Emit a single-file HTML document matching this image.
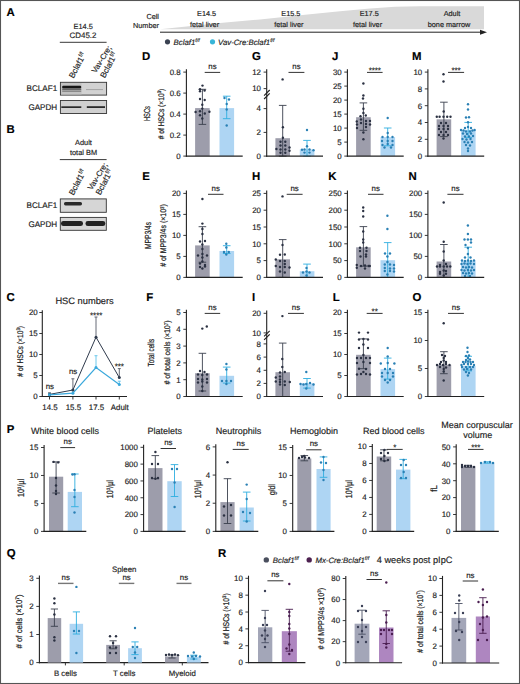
<!DOCTYPE html>
<html><head><meta charset="utf-8"><title>Figure</title>
<style>
html,body{margin:0;padding:0;background:#fff;}
body{width:520px;height:684px;overflow:hidden;font-family:"Liberation Sans", sans-serif;}
svg{display:block;}
</style></head><body>
<svg width="520" height="684" viewBox="0 0 520 684" font-family="'Liberation Sans', sans-serif" text-rendering="geometricPrecision" fill="#222">
<rect x="0" y="0" width="520" height="684" fill="#fff"/>
<defs><filter id="bl" x="-20%" y="-50%" width="140%" height="200%"><feGaussianBlur stdDeviation="0.6"/></filter><filter id="bl2" x="-20%" y="-50%" width="140%" height="200%"><feGaussianBlur stdDeviation="0.9"/></filter></defs>
<text x="6.5" y="16.1" font-size="11.4" font-weight="bold" fill="#000" stroke="#000" stroke-width="0.16">A</text>
<text x="83.2" y="28.9" font-size="7.4" text-anchor="middle" stroke="#222" stroke-width="0.16">E14.5</text>
<text x="83" y="37.9" font-size="7.9" text-anchor="middle" stroke="#222" stroke-width="0.16">CD45.2</text>
<line x1="59.8" y1="42.3" x2="106.6" y2="42.3" stroke="#222" stroke-width="0.9"/>
<text x="73.5" y="78.8" font-size="8.2" transform="rotate(-62 73.5 78.8)" stroke="#222" stroke-width="0.16">Bclaf1<tspan dy="-3.1" font-size="5.6">f/f</tspan></text>
<text x="95.8" y="73.6" font-size="7.8" transform="rotate(-58 95.8 73.6)" stroke="#222" stroke-width="0.16">Vav-Cre;</text>
<text x="104.8" y="78.6" font-size="8.2" transform="rotate(-62 104.8 78.6)" stroke="#222" stroke-width="0.16">Bclaf1<tspan dy="-3.1" font-size="5.6">f/f</tspan></text>
<text x="57.2" y="91.1" font-size="8.1" text-anchor="end" stroke="#222" stroke-width="0.16">BCLAF1</text>
<text x="57.2" y="110.4" font-size="8.1" text-anchor="end" stroke="#222" stroke-width="0.16">GAPDH</text>
<rect x="60.4" y="82.3" width="46.2" height="12.8" fill="#d2d2d2" stroke="#333" stroke-width="0.9"/>
<rect x="61" y="83" width="20.5" height="11.4" fill="#c2c2c2" filter="url(#bl)"/>
<rect x="62.2" y="85.7" width="19" height="2.8" rx="1" fill="#151515" filter="url(#bl)"/>
<rect x="62.2" y="88.6" width="19" height="1.4" fill="#666" filter="url(#bl)"/>
<rect x="62.2" y="90.4" width="19" height="1.6" fill="#8a8a8a" filter="url(#bl)"/>
<rect x="86" y="89.0" width="17" height="1.1" fill="#a8a8a8" filter="url(#bl)"/>
<rect x="60.4" y="100.5" width="46.2" height="13" fill="#d0d0d0" stroke="#333" stroke-width="0.9"/>
<rect x="61.3" y="106.3" width="20" height="1.7" fill="#2a2a2a" filter="url(#bl)"/>
<rect x="86.8" y="106.2" width="18.2" height="1.8" fill="#2a2a2a" filter="url(#bl)"/>
<text x="6.5" y="133.1" font-size="11.4" font-weight="bold" fill="#000" stroke="#000" stroke-width="0.16">B</text>
<text x="83.5" y="144.6" font-size="7.4" text-anchor="middle" stroke="#222" stroke-width="0.16">Adult</text>
<text x="83.5" y="155" font-size="7.4" text-anchor="middle" stroke="#222" stroke-width="0.16">total BM</text>
<line x1="59.8" y1="159.6" x2="106.6" y2="159.6" stroke="#222" stroke-width="0.9"/>
<text x="73.5" y="195.8" font-size="8.2" transform="rotate(-62 73.5 195.8)" stroke="#222" stroke-width="0.16">Bclaf1<tspan dy="-3.1" font-size="5.6">f/f</tspan></text>
<text x="91.8" y="190.6" font-size="7.8" transform="rotate(-58 91.8 190.6)" stroke="#222" stroke-width="0.16">Vav-Cre;</text>
<text x="100.3" y="195.6" font-size="8.2" transform="rotate(-62 100.3 195.6)" stroke="#222" stroke-width="0.16">Bclaf1<tspan dy="-3.1" font-size="5.6">f/f</tspan></text>
<text x="57.2" y="208.4" font-size="8.1" text-anchor="end" stroke="#222" stroke-width="0.16">BCLAF1</text>
<text x="57.2" y="226.6" font-size="8.1" text-anchor="end" stroke="#222" stroke-width="0.16">GAPDH</text>
<rect x="60.3" y="198.9" width="46" height="13.4" fill="#d6d6d6" stroke="#333" stroke-width="0.9"/>
<rect x="64" y="202" width="18" height="3.4" rx="1.6" fill="#2a2a2a" filter="url(#bl)"/>
<rect x="60.3" y="217.4" width="46" height="12.9" fill="#d6d6d6" stroke="#333" stroke-width="0.9"/>
<rect x="61" y="220.9" width="22" height="5.2" rx="2.4" fill="#222" filter="url(#bl)"/>
<rect x="85.5" y="220.9" width="19.8" height="5.2" rx="2.4" fill="#222" filter="url(#bl)"/>
<path d="M160,29.3 L220,23.1 L260,19.4 L300,15.2 L340,11.2 L370,8.4 L395,6.7 L420,6.2 L484,6.2 L484,29.3 Z" fill="#d9d9d9" stroke="none" stroke-width="1"/>
<line x1="160" y1="32.2" x2="481" y2="32.2" stroke="#222" stroke-width="1"/>
<path d="M480,29.7 L487,32.2 L480,34.7 Z" fill="#222" stroke="none" stroke-width="1"/>
<text x="159" y="18.8" font-size="7.3" text-anchor="end" stroke="#222" stroke-width="0.16">Cell</text>
<text x="159" y="27.9" font-size="7.3" text-anchor="end" stroke="#222" stroke-width="0.16">Number</text>
<text x="206.6" y="16.2" font-size="7.3" text-anchor="middle" stroke="#222" stroke-width="0.16">E14.5</text>
<text x="204.5" y="27.3" font-size="7.3" text-anchor="middle" stroke="#222" stroke-width="0.16">fetal liver</text>
<text x="290.9" y="16.2" font-size="7.3" text-anchor="middle" stroke="#222" stroke-width="0.16">E15.5</text>
<text x="288.8" y="27.3" font-size="7.3" text-anchor="middle" stroke="#222" stroke-width="0.16">fetal liver</text>
<text x="369.2" y="16.2" font-size="7.3" text-anchor="middle" stroke="#222" stroke-width="0.16">E17.5</text>
<text x="367.5" y="27.3" font-size="7.3" text-anchor="middle" stroke="#222" stroke-width="0.16">fetal liver</text>
<text x="452" y="16.2" font-size="7.3" text-anchor="middle" stroke="#222" stroke-width="0.16">Adult</text>
<text x="449" y="27.3" font-size="7.3" text-anchor="middle" stroke="#222" stroke-width="0.16">bone marrow</text>
<circle cx="167.5" cy="41.8" r="2.6" fill="#3a4252"/>
<text x="173.6" y="44.6" font-size="7.8" font-style="italic" stroke="#222" stroke-width="0.16">Bclaf1<tspan dy="-2.9" font-size="5.2">f/f</tspan></text>
<circle cx="212.5" cy="41.8" r="2.6" fill="#38b5d8"/>
<text x="218" y="44.6" font-size="7.8" font-style="italic" stroke="#222" stroke-width="0.16">Vav-Cre:Bclaf1<tspan dy="-2.9" font-size="5.2">f/f</tspan></text>
<text x="6.5" y="301.1" font-size="11.4" font-weight="bold" fill="#000" stroke="#000" stroke-width="0.16">C</text>
<text x="55.4" y="303.8" font-size="9.3" stroke="#222" stroke-width="0.16">HSC numbers</text>
<text x="0" y="0" font-size="8.2" text-anchor="middle" transform="translate(22.8 351.3) rotate(-90) scale(0.82 1)" stroke="#222" stroke-width="0.22"># of HSCs (×10<tspan dy="-2.8" font-size="5.2">3</tspan><tspan dy="2.8">)</tspan></text>
<line x1="42.3" y1="310.2" x2="42.3" y2="397" stroke="#222" stroke-width="1.1"/>
<line x1="41.8" y1="396.5" x2="127" y2="396.5" stroke="#222" stroke-width="1.1"/>
<line x1="39.3" y1="396.5" x2="42.3" y2="396.5" stroke="#222" stroke-width="0.9"/>
<text x="37.7" y="399.3" font-size="7.9" text-anchor="end" stroke="#222" stroke-width="0.16">0</text>
<line x1="39.3" y1="375.5" x2="42.3" y2="375.5" stroke="#222" stroke-width="0.9"/>
<text x="37.7" y="378.3" font-size="7.9" text-anchor="end" stroke="#222" stroke-width="0.16">5</text>
<line x1="39.3" y1="354.5" x2="42.3" y2="354.5" stroke="#222" stroke-width="0.9"/>
<text x="37.7" y="357.3" font-size="7.9" text-anchor="end" stroke="#222" stroke-width="0.16">10</text>
<line x1="39.3" y1="333.5" x2="42.3" y2="333.5" stroke="#222" stroke-width="0.9"/>
<text x="37.7" y="336.3" font-size="7.9" text-anchor="end" stroke="#222" stroke-width="0.16">15</text>
<line x1="39.3" y1="312.5" x2="42.3" y2="312.5" stroke="#222" stroke-width="0.9"/>
<text x="37.7" y="315.3" font-size="7.9" text-anchor="end" stroke="#222" stroke-width="0.16">20</text>
<line x1="49.5" y1="396.5" x2="49.5" y2="399.5" stroke="#222" stroke-width="0.9"/>
<text x="50" y="409.9" font-size="7.9" text-anchor="middle" stroke="#222" stroke-width="0.16">14.5</text>
<line x1="72.9" y1="396.5" x2="72.9" y2="399.5" stroke="#222" stroke-width="0.9"/>
<text x="73.4" y="409.9" font-size="7.9" text-anchor="middle" stroke="#222" stroke-width="0.16">15.5</text>
<line x1="96" y1="396.5" x2="96" y2="399.5" stroke="#222" stroke-width="0.9"/>
<text x="96.5" y="409.9" font-size="7.9" text-anchor="middle" stroke="#222" stroke-width="0.16">17.5</text>
<line x1="119.3" y1="396.5" x2="119.3" y2="399.5" stroke="#222" stroke-width="0.9"/>
<text x="119.8" y="409.9" font-size="7.9" text-anchor="middle" stroke="#222" stroke-width="0.16">Adult</text>
<line x1="49.5" y1="394.4" x2="49.5" y2="392.8" stroke="#555a66" stroke-width="0.9"/>
<line x1="48" y1="392.8" x2="51" y2="392.8" stroke="#555a66" stroke-width="0.9"/>
<line x1="72.9" y1="390" x2="72.9" y2="378.8" stroke="#555a66" stroke-width="0.9"/>
<line x1="71.4" y1="378.8" x2="74.4" y2="378.8" stroke="#555a66" stroke-width="0.9"/>
<line x1="96" y1="337.2" x2="96" y2="317" stroke="#555a66" stroke-width="0.9"/>
<line x1="94.5" y1="317" x2="97.5" y2="317" stroke="#555a66" stroke-width="0.9"/>
<line x1="119.3" y1="377.6" x2="119.3" y2="368.6" stroke="#555a66" stroke-width="0.9"/>
<line x1="117.8" y1="368.6" x2="120.8" y2="368.6" stroke="#555a66" stroke-width="0.9"/>
<line x1="49.5" y1="394.8" x2="49.5" y2="393.6" stroke="#5fc3ea" stroke-width="0.9"/>
<line x1="48" y1="393.6" x2="51" y2="393.6" stroke="#5fc3ea" stroke-width="0.9"/>
<line x1="72.9" y1="393.2" x2="72.9" y2="390.2" stroke="#5fc3ea" stroke-width="0.9"/>
<line x1="71.4" y1="390.2" x2="74.4" y2="390.2" stroke="#5fc3ea" stroke-width="0.9"/>
<line x1="96" y1="367.6" x2="96" y2="355.7" stroke="#5fc3ea" stroke-width="0.9"/>
<line x1="94.5" y1="355.7" x2="97.5" y2="355.7" stroke="#5fc3ea" stroke-width="0.9"/>
<line x1="119.3" y1="384.4" x2="119.3" y2="381.2" stroke="#5fc3ea" stroke-width="0.9"/>
<line x1="117.8" y1="381.2" x2="120.8" y2="381.2" stroke="#5fc3ea" stroke-width="0.9"/>
<polyline points="49.5,394.4 72.9,390 96,337.2 119.3,377.6" fill="none" stroke="#2f3a4c" stroke-width="1.0"/>
<polyline points="49.5,394.8 72.9,393.2 96,367.6 119.3,384.4" fill="none" stroke="#3aa8dc" stroke-width="1.2"/>
<circle cx="49.5" cy="394.4" r="1.5" fill="#2f3a4c"/>
<circle cx="72.9" cy="390" r="1.5" fill="#2f3a4c"/>
<circle cx="96" cy="337.2" r="1.5" fill="#2f3a4c"/>
<circle cx="119.3" cy="377.6" r="1.5" fill="#2f3a4c"/>
<circle cx="49.5" cy="394.8" r="1.5" fill="#3aa8dc"/>
<circle cx="72.9" cy="393.2" r="1.5" fill="#3aa8dc"/>
<circle cx="96" cy="367.6" r="1.5" fill="#3aa8dc"/>
<circle cx="119.3" cy="384.4" r="1.5" fill="#3aa8dc"/>
<text x="49.8" y="388.8" font-size="7.9" text-anchor="middle" stroke="#222" stroke-width="0.16">ns</text>
<text x="73.1" y="374.4" font-size="7.9" text-anchor="middle" stroke="#222" stroke-width="0.16">ns</text>
<text x="96.2" y="318.4" font-size="7.9" text-anchor="middle" stroke="#222" stroke-width="0.16">****</text>
<text x="119.3" y="369.4" font-size="7.9" text-anchor="middle" stroke="#222" stroke-width="0.16">***</text>
<rect x="195.1" y="108.1" width="14.6" height="48" fill="#9d9dab"/>
<rect x="219.5" y="108.1" width="14.6" height="48" fill="#aed5f3"/>
<line x1="202.4" y1="89.3" x2="202.4" y2="124.4" stroke="#3a3f4d" stroke-width="0.9"/>
<line x1="198.6" y1="89.3" x2="206.2" y2="89.3" stroke="#3a3f4d" stroke-width="0.9"/>
<line x1="198.6" y1="124.4" x2="206.2" y2="124.4" stroke="#3a3f4d" stroke-width="0.9"/>
<line x1="226.7" y1="96.2" x2="226.7" y2="118.7" stroke="#2eaee0" stroke-width="0.9"/>
<line x1="222.9" y1="96.2" x2="230.5" y2="96.2" stroke="#2eaee0" stroke-width="0.9"/>
<line x1="222.9" y1="118.7" x2="230.5" y2="118.7" stroke="#2eaee0" stroke-width="0.9"/>
<circle cx="202.5" cy="85.6" r="1.2" fill="#2b3142"/>
<circle cx="200" cy="89.3" r="1.2" fill="#2b3142"/>
<circle cx="200" cy="91.2" r="1.2" fill="#2b3142"/>
<circle cx="204.6" cy="90.5" r="1.2" fill="#2b3142"/>
<circle cx="200" cy="99" r="1.2" fill="#2b3142"/>
<circle cx="204.7" cy="100" r="1.2" fill="#2b3142"/>
<circle cx="202.3" cy="104.8" r="1.2" fill="#2b3142"/>
<circle cx="202.3" cy="108.6" r="1.2" fill="#2b3142"/>
<circle cx="195.6" cy="112" r="1.2" fill="#2b3142"/>
<circle cx="200" cy="111.3" r="1.2" fill="#2b3142"/>
<circle cx="209.4" cy="111.8" r="1.2" fill="#2b3142"/>
<circle cx="200" cy="115.2" r="1.2" fill="#2b3142"/>
<circle cx="204.8" cy="113.5" r="1.2" fill="#2b3142"/>
<circle cx="202.3" cy="118.5" r="1.2" fill="#2b3142"/>
<circle cx="224.5" cy="98" r="1.2" fill="#2a80b4"/>
<circle cx="229" cy="99.5" r="1.2" fill="#2a80b4"/>
<circle cx="226.7" cy="104" r="1.2" fill="#2a80b4"/>
<circle cx="226.7" cy="109.5" r="1.2" fill="#2a80b4"/>
<circle cx="226.7" cy="125.5" r="1.2" fill="#2a80b4"/>
<line x1="186.4" y1="69.3" x2="186.4" y2="156.65" stroke="#222" stroke-width="1.1"/>
<line x1="185.85" y1="156.1" x2="242.7" y2="156.1" stroke="#222" stroke-width="1.1"/>
<line x1="183.3" y1="72.1" x2="186.4" y2="72.1" stroke="#222" stroke-width="0.9"/>
<text x="180.7" y="74.9" font-size="7.9" text-anchor="end" stroke="#222" stroke-width="0.16">0.8</text>
<line x1="183.3" y1="93.1" x2="186.4" y2="93.1" stroke="#222" stroke-width="0.9"/>
<text x="180.7" y="95.9" font-size="7.9" text-anchor="end" stroke="#222" stroke-width="0.16">0.6</text>
<line x1="183.3" y1="114.1" x2="186.4" y2="114.1" stroke="#222" stroke-width="0.9"/>
<text x="180.7" y="116.9" font-size="7.9" text-anchor="end" stroke="#222" stroke-width="0.16">0.4</text>
<line x1="183.3" y1="135.1" x2="186.4" y2="135.1" stroke="#222" stroke-width="0.9"/>
<text x="180.7" y="137.9" font-size="7.9" text-anchor="end" stroke="#222" stroke-width="0.16">0.2</text>
<line x1="183.3" y1="156.1" x2="186.4" y2="156.1" stroke="#222" stroke-width="0.9"/>
<text x="180.7" y="158.9" font-size="7.9" text-anchor="end" stroke="#222" stroke-width="0.16">0</text>
<line x1="204.7" y1="72.4" x2="220.2" y2="72.4" stroke="#333" stroke-width="1"/>
<text x="212.45" y="69" font-size="7.9" text-anchor="middle" stroke="#222" stroke-width="0.16">ns</text>
<rect x="275.4" y="138.2" width="14.6" height="17.9" fill="#9d9dab"/>
<rect x="299.8" y="149.5" width="14.6" height="6.6" fill="#aed5f3"/>
<line x1="282.7" y1="105.4" x2="282.7" y2="156.1" stroke="#3a3f4d" stroke-width="0.9"/>
<line x1="278.9" y1="105.4" x2="286.5" y2="105.4" stroke="#3a3f4d" stroke-width="0.9"/>
<line x1="278.9" y1="156.1" x2="286.5" y2="156.1" stroke="#3a3f4d" stroke-width="0.9"/>
<line x1="307" y1="140.4" x2="307" y2="156.1" stroke="#2eaee0" stroke-width="0.9"/>
<line x1="303.2" y1="140.4" x2="310.8" y2="140.4" stroke="#2eaee0" stroke-width="0.9"/>
<line x1="303.2" y1="156.1" x2="310.8" y2="156.1" stroke="#2eaee0" stroke-width="0.9"/>
<circle cx="282.6" cy="79.4" r="1.2" fill="#2b3142"/>
<circle cx="282.9" cy="127.2" r="1.2" fill="#2b3142"/>
<circle cx="282.9" cy="137.8" r="1.2" fill="#2b3142"/>
<circle cx="280.5" cy="141.7" r="1.2" fill="#2b3142"/>
<circle cx="285.3" cy="141.7" r="1.2" fill="#2b3142"/>
<circle cx="280.5" cy="145.5" r="1.2" fill="#2b3142"/>
<circle cx="285.3" cy="145.5" r="1.2" fill="#2b3142"/>
<circle cx="280.5" cy="149.5" r="1.2" fill="#2b3142"/>
<circle cx="285.3" cy="149.5" r="1.2" fill="#2b3142"/>
<circle cx="276.4" cy="149" r="1.2" fill="#2b3142"/>
<circle cx="289.5" cy="147.5" r="1.2" fill="#2b3142"/>
<circle cx="289.5" cy="150.8" r="1.2" fill="#2b3142"/>
<circle cx="280.5" cy="152.8" r="1.2" fill="#2b3142"/>
<circle cx="285.3" cy="152.8" r="1.2" fill="#2b3142"/>
<circle cx="307" cy="130" r="1.2" fill="#2a80b4"/>
<circle cx="307" cy="146.2" r="1.2" fill="#2a80b4"/>
<circle cx="302" cy="149.8" r="1.2" fill="#2a80b4"/>
<circle cx="304.5" cy="149.5" r="1.2" fill="#2a80b4"/>
<circle cx="309.5" cy="149.5" r="1.2" fill="#2a80b4"/>
<circle cx="313.5" cy="150.2" r="1.2" fill="#2a80b4"/>
<circle cx="304.5" cy="152.6" r="1.2" fill="#2a80b4"/>
<circle cx="309.5" cy="152.6" r="1.2" fill="#2a80b4"/>
<line x1="266.7" y1="69.3" x2="266.7" y2="156.65" stroke="#222" stroke-width="1.1"/>
<line x1="264.1" y1="95.6" x2="269.7" y2="90" stroke="#222" stroke-width="1.15"/>
<line x1="264.1" y1="99" x2="269.7" y2="93.4" stroke="#222" stroke-width="1.15"/>
<line x1="266.15" y1="156.1" x2="323" y2="156.1" stroke="#222" stroke-width="1.1"/>
<line x1="263.6" y1="72.1" x2="266.7" y2="72.1" stroke="#222" stroke-width="0.9"/>
<text x="261" y="74.9" font-size="7.9" text-anchor="end" stroke="#222" stroke-width="0.16">12</text>
<line x1="263.6" y1="88.6" x2="266.7" y2="88.6" stroke="#222" stroke-width="0.9"/>
<text x="261" y="91.4" font-size="7.9" text-anchor="end" stroke="#222" stroke-width="0.16">10</text>
<line x1="263.6" y1="108.6" x2="266.7" y2="108.6" stroke="#222" stroke-width="0.9"/>
<text x="261" y="111.4" font-size="7.9" text-anchor="end" stroke="#222" stroke-width="0.16">4</text>
<line x1="263.6" y1="132.4" x2="266.7" y2="132.4" stroke="#222" stroke-width="0.9"/>
<text x="261" y="135.2" font-size="7.9" text-anchor="end" stroke="#222" stroke-width="0.16">2</text>
<line x1="263.6" y1="156.1" x2="266.7" y2="156.1" stroke="#222" stroke-width="0.9"/>
<text x="261" y="158.9" font-size="7.9" text-anchor="end" stroke="#222" stroke-width="0.16">0</text>
<line x1="288.5" y1="72.4" x2="304.4" y2="72.4" stroke="#333" stroke-width="1"/>
<text x="296.45" y="69" font-size="7.9" text-anchor="middle" stroke="#222" stroke-width="0.16">ns</text>
<rect x="356.1" y="117.2" width="14.6" height="38.9" fill="#9d9dab"/>
<rect x="380.5" y="137.1" width="14.6" height="19" fill="#aed5f3"/>
<line x1="363.4" y1="102.9" x2="363.4" y2="130.3" stroke="#3a3f4d" stroke-width="0.9"/>
<line x1="359.6" y1="102.9" x2="367.2" y2="102.9" stroke="#3a3f4d" stroke-width="0.9"/>
<line x1="359.6" y1="130.3" x2="367.2" y2="130.3" stroke="#3a3f4d" stroke-width="0.9"/>
<line x1="387.7" y1="128" x2="387.7" y2="145.8" stroke="#2eaee0" stroke-width="0.9"/>
<line x1="383.9" y1="128" x2="391.5" y2="128" stroke="#2eaee0" stroke-width="0.9"/>
<line x1="383.9" y1="145.8" x2="391.5" y2="145.8" stroke="#2eaee0" stroke-width="0.9"/>
<circle cx="363.4" cy="83.5" r="1.2" fill="#2b3142"/>
<circle cx="363.4" cy="95.5" r="1.2" fill="#2b3142"/>
<circle cx="363" cy="98.5" r="1.2" fill="#2b3142"/>
<circle cx="363.4" cy="108.8" r="1.2" fill="#2b3142"/>
<circle cx="363.4" cy="113" r="1.2" fill="#2b3142"/>
<circle cx="360.5" cy="116.3" r="1.2" fill="#2b3142"/>
<circle cx="365.8" cy="115.5" r="1.2" fill="#2b3142"/>
<circle cx="356.8" cy="121.5" r="1.2" fill="#2b3142"/>
<circle cx="361" cy="119.5" r="1.2" fill="#2b3142"/>
<circle cx="366" cy="121" r="1.2" fill="#2b3142"/>
<circle cx="370" cy="121" r="1.2" fill="#2b3142"/>
<circle cx="357" cy="124.5" r="1.2" fill="#2b3142"/>
<circle cx="361" cy="123" r="1.2" fill="#2b3142"/>
<circle cx="366" cy="124" r="1.2" fill="#2b3142"/>
<circle cx="370" cy="124.5" r="1.2" fill="#2b3142"/>
<circle cx="357" cy="128" r="1.2" fill="#2b3142"/>
<circle cx="366" cy="127" r="1.2" fill="#2b3142"/>
<circle cx="363.4" cy="132.5" r="1.2" fill="#2b3142"/>
<circle cx="363.4" cy="139.2" r="1.2" fill="#2b3142"/>
<circle cx="387.7" cy="118" r="1.2" fill="#2a80b4"/>
<circle cx="387.7" cy="133" r="1.2" fill="#2a80b4"/>
<circle cx="382.5" cy="137" r="1.2" fill="#2a80b4"/>
<circle cx="387.7" cy="137" r="1.2" fill="#2a80b4"/>
<circle cx="392.5" cy="137" r="1.2" fill="#2a80b4"/>
<circle cx="382" cy="141" r="1.2" fill="#2a80b4"/>
<circle cx="387.7" cy="141" r="1.2" fill="#2a80b4"/>
<circle cx="392.5" cy="141" r="1.2" fill="#2a80b4"/>
<circle cx="382.5" cy="145" r="1.2" fill="#2a80b4"/>
<circle cx="387.7" cy="144" r="1.2" fill="#2a80b4"/>
<circle cx="392.5" cy="145" r="1.2" fill="#2a80b4"/>
<circle cx="384.5" cy="147.5" r="1.2" fill="#2a80b4"/>
<circle cx="391" cy="147.5" r="1.2" fill="#2a80b4"/>
<line x1="347.4" y1="69.3" x2="347.4" y2="156.65" stroke="#222" stroke-width="1.1"/>
<line x1="346.85" y1="156.1" x2="403.7" y2="156.1" stroke="#222" stroke-width="1.1"/>
<line x1="344.3" y1="72.1" x2="347.4" y2="72.1" stroke="#222" stroke-width="0.9"/>
<text x="341.7" y="74.9" font-size="7.9" text-anchor="end" stroke="#222" stroke-width="0.16">30</text>
<line x1="344.3" y1="86.1" x2="347.4" y2="86.1" stroke="#222" stroke-width="0.9"/>
<text x="341.7" y="88.9" font-size="7.9" text-anchor="end" stroke="#222" stroke-width="0.16">25</text>
<line x1="344.3" y1="100.1" x2="347.4" y2="100.1" stroke="#222" stroke-width="0.9"/>
<text x="341.7" y="102.9" font-size="7.9" text-anchor="end" stroke="#222" stroke-width="0.16">20</text>
<line x1="344.3" y1="114.1" x2="347.4" y2="114.1" stroke="#222" stroke-width="0.9"/>
<text x="341.7" y="116.9" font-size="7.9" text-anchor="end" stroke="#222" stroke-width="0.16">15</text>
<line x1="344.3" y1="128.1" x2="347.4" y2="128.1" stroke="#222" stroke-width="0.9"/>
<text x="341.7" y="130.9" font-size="7.9" text-anchor="end" stroke="#222" stroke-width="0.16">10</text>
<line x1="344.3" y1="142.1" x2="347.4" y2="142.1" stroke="#222" stroke-width="0.9"/>
<text x="341.7" y="144.9" font-size="7.9" text-anchor="end" stroke="#222" stroke-width="0.16">5</text>
<line x1="344.3" y1="156.1" x2="347.4" y2="156.1" stroke="#222" stroke-width="0.9"/>
<text x="341.7" y="158.9" font-size="7.9" text-anchor="end" stroke="#222" stroke-width="0.16">0</text>
<line x1="367" y1="72.4" x2="382.6" y2="72.4" stroke="#333" stroke-width="1"/>
<text x="374.8" y="72.5" font-size="7.9" text-anchor="middle" stroke="#222" stroke-width="0.16">****</text>
<rect x="436.6" y="119.3" width="14.6" height="36.8" fill="#9d9dab"/>
<rect x="461" y="129.9" width="14.6" height="26.2" fill="#aed5f3"/>
<line x1="443.9" y1="102.2" x2="443.9" y2="136.6" stroke="#3a3f4d" stroke-width="0.9"/>
<line x1="440.1" y1="102.2" x2="447.7" y2="102.2" stroke="#3a3f4d" stroke-width="0.9"/>
<line x1="440.1" y1="136.6" x2="447.7" y2="136.6" stroke="#3a3f4d" stroke-width="0.9"/>
<line x1="468.2" y1="122.4" x2="468.2" y2="137.6" stroke="#2eaee0" stroke-width="0.9"/>
<line x1="464.4" y1="122.4" x2="472" y2="122.4" stroke="#2eaee0" stroke-width="0.9"/>
<line x1="464.4" y1="137.6" x2="472" y2="137.6" stroke="#2eaee0" stroke-width="0.9"/>
<circle cx="443.5" cy="74.2" r="1.2" fill="#2b3142"/>
<circle cx="443.5" cy="81.5" r="1.2" fill="#2b3142"/>
<circle cx="443.7" cy="111.5" r="1.2" fill="#2b3142"/>
<circle cx="436.8" cy="116.7" r="1.2" fill="#2b3142"/>
<circle cx="439.6" cy="116.7" r="1.2" fill="#2b3142"/>
<circle cx="443.5" cy="116.7" r="1.2" fill="#2b3142"/>
<circle cx="447.2" cy="116.7" r="1.2" fill="#2b3142"/>
<circle cx="450.5" cy="116.7" r="1.2" fill="#2b3142"/>
<circle cx="441" cy="123" r="1.2" fill="#2b3142"/>
<circle cx="446" cy="123" r="1.2" fill="#2b3142"/>
<circle cx="439" cy="126" r="1.2" fill="#2b3142"/>
<circle cx="443.5" cy="126" r="1.2" fill="#2b3142"/>
<circle cx="448" cy="126" r="1.2" fill="#2b3142"/>
<circle cx="439" cy="129" r="1.2" fill="#2b3142"/>
<circle cx="443.5" cy="129" r="1.2" fill="#2b3142"/>
<circle cx="448" cy="129" r="1.2" fill="#2b3142"/>
<circle cx="441" cy="132" r="1.2" fill="#2b3142"/>
<circle cx="446" cy="132" r="1.2" fill="#2b3142"/>
<circle cx="439" cy="135" r="1.2" fill="#2b3142"/>
<circle cx="443.5" cy="135" r="1.2" fill="#2b3142"/>
<circle cx="448" cy="135" r="1.2" fill="#2b3142"/>
<circle cx="443.5" cy="138.5" r="1.2" fill="#2b3142"/>
<circle cx="468" cy="104.2" r="1.2" fill="#2a80b4"/>
<circle cx="468" cy="109.5" r="1.2" fill="#2a80b4"/>
<circle cx="466" cy="117.5" r="1.2" fill="#2a80b4"/>
<circle cx="469" cy="117.3" r="1.2" fill="#2a80b4"/>
<circle cx="468" cy="122.2" r="1.2" fill="#2a80b4"/>
<circle cx="468" cy="127" r="1.2" fill="#2a80b4"/>
<circle cx="465" cy="128" r="1.2" fill="#2a80b4"/>
<circle cx="471" cy="128" r="1.2" fill="#2a80b4"/>
<circle cx="461" cy="130" r="1.2" fill="#2a80b4"/>
<circle cx="474.6" cy="130" r="1.2" fill="#2a80b4"/>
<circle cx="463.5" cy="130.5" r="1.2" fill="#2a80b4"/>
<circle cx="466" cy="131.5" r="1.2" fill="#2a80b4"/>
<circle cx="470" cy="131.5" r="1.2" fill="#2a80b4"/>
<circle cx="472.5" cy="130.5" r="1.2" fill="#2a80b4"/>
<circle cx="463" cy="133.5" r="1.2" fill="#2a80b4"/>
<circle cx="467" cy="134" r="1.2" fill="#2a80b4"/>
<circle cx="471" cy="133.5" r="1.2" fill="#2a80b4"/>
<circle cx="465" cy="136.5" r="1.2" fill="#2a80b4"/>
<circle cx="469" cy="136.5" r="1.2" fill="#2a80b4"/>
<circle cx="473" cy="136" r="1.2" fill="#2a80b4"/>
<circle cx="462.5" cy="139" r="1.2" fill="#2a80b4"/>
<circle cx="466.5" cy="139.5" r="1.2" fill="#2a80b4"/>
<circle cx="470.5" cy="139" r="1.2" fill="#2a80b4"/>
<circle cx="464.5" cy="142" r="1.2" fill="#2a80b4"/>
<circle cx="468" cy="142.5" r="1.2" fill="#2a80b4"/>
<circle cx="472" cy="142" r="1.2" fill="#2a80b4"/>
<circle cx="466" cy="145" r="1.2" fill="#2a80b4"/>
<circle cx="470" cy="145.5" r="1.2" fill="#2a80b4"/>
<circle cx="468" cy="148.5" r="1.2" fill="#2a80b4"/>
<circle cx="468" cy="151" r="1.2" fill="#2a80b4"/>
<line x1="427.9" y1="69.3" x2="427.9" y2="156.65" stroke="#222" stroke-width="1.1"/>
<line x1="427.35" y1="156.1" x2="484.2" y2="156.1" stroke="#222" stroke-width="1.1"/>
<line x1="424.8" y1="72.1" x2="427.9" y2="72.1" stroke="#222" stroke-width="0.9"/>
<text x="422.2" y="74.9" font-size="7.9" text-anchor="end" stroke="#222" stroke-width="0.16">10</text>
<line x1="424.8" y1="88.9" x2="427.9" y2="88.9" stroke="#222" stroke-width="0.9"/>
<text x="422.2" y="91.7" font-size="7.9" text-anchor="end" stroke="#222" stroke-width="0.16">8</text>
<line x1="424.8" y1="105.7" x2="427.9" y2="105.7" stroke="#222" stroke-width="0.9"/>
<text x="422.2" y="108.5" font-size="7.9" text-anchor="end" stroke="#222" stroke-width="0.16">6</text>
<line x1="424.8" y1="122.5" x2="427.9" y2="122.5" stroke="#222" stroke-width="0.9"/>
<text x="422.2" y="125.3" font-size="7.9" text-anchor="end" stroke="#222" stroke-width="0.16">4</text>
<line x1="424.8" y1="139.3" x2="427.9" y2="139.3" stroke="#222" stroke-width="0.9"/>
<text x="422.2" y="142.1" font-size="7.9" text-anchor="end" stroke="#222" stroke-width="0.16">2</text>
<line x1="424.8" y1="156.1" x2="427.9" y2="156.1" stroke="#222" stroke-width="0.9"/>
<text x="422.2" y="158.9" font-size="7.9" text-anchor="end" stroke="#222" stroke-width="0.16">0</text>
<line x1="448" y1="72.4" x2="464.1" y2="72.4" stroke="#333" stroke-width="1"/>
<text x="456.05" y="72.5" font-size="7.9" text-anchor="middle" stroke="#222" stroke-width="0.16">***</text>
<rect x="195.1" y="245.4" width="14.6" height="32" fill="#9d9dab"/>
<rect x="219.5" y="251" width="14.6" height="26.4" fill="#aed5f3"/>
<line x1="202.4" y1="226.7" x2="202.4" y2="262.2" stroke="#3a3f4d" stroke-width="0.9"/>
<line x1="198.6" y1="226.7" x2="206.2" y2="226.7" stroke="#3a3f4d" stroke-width="0.9"/>
<line x1="198.6" y1="262.2" x2="206.2" y2="262.2" stroke="#3a3f4d" stroke-width="0.9"/>
<line x1="226.7" y1="245.7" x2="226.7" y2="253.5" stroke="#2eaee0" stroke-width="0.9"/>
<line x1="222.9" y1="245.7" x2="230.5" y2="245.7" stroke="#2eaee0" stroke-width="0.9"/>
<line x1="222.9" y1="253.5" x2="230.5" y2="253.5" stroke="#2eaee0" stroke-width="0.9"/>
<circle cx="202.4" cy="199" r="1.2" fill="#2b3142"/>
<circle cx="202.4" cy="223.6" r="1.2" fill="#2b3142"/>
<circle cx="202.4" cy="229" r="1.2" fill="#2b3142"/>
<circle cx="202.4" cy="234" r="1.2" fill="#2b3142"/>
<circle cx="200" cy="241.5" r="1.2" fill="#2b3142"/>
<circle cx="205" cy="241" r="1.2" fill="#2b3142"/>
<circle cx="202.4" cy="244.5" r="1.2" fill="#2b3142"/>
<circle cx="202.4" cy="249" r="1.2" fill="#2b3142"/>
<circle cx="202.4" cy="254" r="1.2" fill="#2b3142"/>
<circle cx="198" cy="255.5" r="1.2" fill="#2b3142"/>
<circle cx="207" cy="255.5" r="1.2" fill="#2b3142"/>
<circle cx="202.4" cy="257.5" r="1.2" fill="#2b3142"/>
<circle cx="202.4" cy="261.5" r="1.2" fill="#2b3142"/>
<circle cx="200" cy="263.5" r="1.2" fill="#2b3142"/>
<circle cx="205" cy="265" r="1.2" fill="#2b3142"/>
<circle cx="200" cy="267" r="1.2" fill="#2b3142"/>
<circle cx="205" cy="266.5" r="1.2" fill="#2b3142"/>
<circle cx="202.4" cy="268.5" r="1.2" fill="#2b3142"/>
<circle cx="226.3" cy="243.8" r="1.2" fill="#2a80b4"/>
<circle cx="226.3" cy="247.5" r="1.2" fill="#2a80b4"/>
<circle cx="224" cy="252" r="1.2" fill="#2a80b4"/>
<circle cx="228.8" cy="252" r="1.2" fill="#2a80b4"/>
<circle cx="226.3" cy="254.5" r="1.2" fill="#2a80b4"/>
<line x1="186.4" y1="190.6" x2="186.4" y2="277.95" stroke="#222" stroke-width="1.1"/>
<line x1="185.85" y1="277.4" x2="242.7" y2="277.4" stroke="#222" stroke-width="1.1"/>
<line x1="183.3" y1="193.4" x2="186.4" y2="193.4" stroke="#222" stroke-width="0.9"/>
<text x="180.7" y="196.2" font-size="7.9" text-anchor="end" stroke="#222" stroke-width="0.16">20</text>
<line x1="183.3" y1="214.4" x2="186.4" y2="214.4" stroke="#222" stroke-width="0.9"/>
<text x="180.7" y="217.2" font-size="7.9" text-anchor="end" stroke="#222" stroke-width="0.16">15</text>
<line x1="183.3" y1="235.4" x2="186.4" y2="235.4" stroke="#222" stroke-width="0.9"/>
<text x="180.7" y="238.2" font-size="7.9" text-anchor="end" stroke="#222" stroke-width="0.16">10</text>
<line x1="183.3" y1="256.4" x2="186.4" y2="256.4" stroke="#222" stroke-width="0.9"/>
<text x="180.7" y="259.2" font-size="7.9" text-anchor="end" stroke="#222" stroke-width="0.16">5</text>
<line x1="183.3" y1="277.4" x2="186.4" y2="277.4" stroke="#222" stroke-width="0.9"/>
<text x="180.7" y="280.2" font-size="7.9" text-anchor="end" stroke="#222" stroke-width="0.16">0</text>
<line x1="208" y1="194.3" x2="223.5" y2="194.3" stroke="#333" stroke-width="1"/>
<text x="215.75" y="190.9" font-size="7.9" text-anchor="middle" stroke="#222" stroke-width="0.16">ns</text>
<rect x="275.4" y="259.3" width="14.6" height="18.1" fill="#9d9dab"/>
<rect x="299.8" y="271.2" width="14.6" height="6.2" fill="#aed5f3"/>
<line x1="282.7" y1="239.6" x2="282.7" y2="277.4" stroke="#3a3f4d" stroke-width="0.9"/>
<line x1="278.9" y1="239.6" x2="286.5" y2="239.6" stroke="#3a3f4d" stroke-width="0.9"/>
<line x1="278.9" y1="277.4" x2="286.5" y2="277.4" stroke="#3a3f4d" stroke-width="0.9"/>
<line x1="307" y1="264.1" x2="307" y2="277.4" stroke="#2eaee0" stroke-width="0.9"/>
<line x1="303.2" y1="264.1" x2="310.8" y2="264.1" stroke="#2eaee0" stroke-width="0.9"/>
<line x1="303.2" y1="277.4" x2="310.8" y2="277.4" stroke="#2eaee0" stroke-width="0.9"/>
<circle cx="282.5" cy="196.4" r="1.2" fill="#2b3142"/>
<circle cx="282.5" cy="245" r="1.2" fill="#2b3142"/>
<circle cx="280" cy="254.8" r="1.2" fill="#2b3142"/>
<circle cx="284.8" cy="254.5" r="1.2" fill="#2b3142"/>
<circle cx="275.8" cy="259.5" r="1.2" fill="#2b3142"/>
<circle cx="280" cy="261" r="1.2" fill="#2b3142"/>
<circle cx="284.8" cy="261" r="1.2" fill="#2b3142"/>
<circle cx="284.8" cy="264" r="1.2" fill="#2b3142"/>
<circle cx="275.8" cy="266" r="1.2" fill="#2b3142"/>
<circle cx="280" cy="267" r="1.2" fill="#2b3142"/>
<circle cx="284.8" cy="267" r="1.2" fill="#2b3142"/>
<circle cx="289.5" cy="267.5" r="1.2" fill="#2b3142"/>
<circle cx="280" cy="271.5" r="1.2" fill="#2b3142"/>
<circle cx="284.8" cy="272.5" r="1.2" fill="#2b3142"/>
<circle cx="306.5" cy="268" r="1.2" fill="#2a80b4"/>
<circle cx="306.5" cy="271.5" r="1.2" fill="#2a80b4"/>
<circle cx="303" cy="272.5" r="1.2" fill="#2a80b4"/>
<circle cx="309.5" cy="272.5" r="1.2" fill="#2a80b4"/>
<circle cx="306.5" cy="275.5" r="1.2" fill="#2a80b4"/>
<line x1="266.7" y1="190.6" x2="266.7" y2="277.95" stroke="#222" stroke-width="1.1"/>
<line x1="266.15" y1="277.4" x2="323" y2="277.4" stroke="#222" stroke-width="1.1"/>
<line x1="263.6" y1="193.4" x2="266.7" y2="193.4" stroke="#222" stroke-width="0.9"/>
<text x="261" y="196.2" font-size="7.9" text-anchor="end" stroke="#222" stroke-width="0.16">25</text>
<line x1="263.6" y1="210.2" x2="266.7" y2="210.2" stroke="#222" stroke-width="0.9"/>
<text x="261" y="213" font-size="7.9" text-anchor="end" stroke="#222" stroke-width="0.16">20</text>
<line x1="263.6" y1="227" x2="266.7" y2="227" stroke="#222" stroke-width="0.9"/>
<text x="261" y="229.8" font-size="7.9" text-anchor="end" stroke="#222" stroke-width="0.16">15</text>
<line x1="263.6" y1="243.8" x2="266.7" y2="243.8" stroke="#222" stroke-width="0.9"/>
<text x="261" y="246.6" font-size="7.9" text-anchor="end" stroke="#222" stroke-width="0.16">10</text>
<line x1="263.6" y1="260.6" x2="266.7" y2="260.6" stroke="#222" stroke-width="0.9"/>
<text x="261" y="263.4" font-size="7.9" text-anchor="end" stroke="#222" stroke-width="0.16">5</text>
<line x1="263.6" y1="277.4" x2="266.7" y2="277.4" stroke="#222" stroke-width="0.9"/>
<text x="261" y="280.2" font-size="7.9" text-anchor="end" stroke="#222" stroke-width="0.16">0</text>
<line x1="286.7" y1="194.3" x2="302.6" y2="194.3" stroke="#333" stroke-width="1"/>
<text x="294.65" y="190.9" font-size="7.9" text-anchor="middle" stroke="#222" stroke-width="0.16">ns</text>
<rect x="356.1" y="247.3" width="14.6" height="30.1" fill="#9d9dab"/>
<rect x="380.5" y="260.2" width="14.6" height="17.2" fill="#aed5f3"/>
<line x1="363.4" y1="226.6" x2="363.4" y2="266.2" stroke="#3a3f4d" stroke-width="0.9"/>
<line x1="359.6" y1="226.6" x2="367.2" y2="226.6" stroke="#3a3f4d" stroke-width="0.9"/>
<line x1="359.6" y1="266.2" x2="367.2" y2="266.2" stroke="#3a3f4d" stroke-width="0.9"/>
<line x1="387.7" y1="242.6" x2="387.7" y2="277.4" stroke="#2eaee0" stroke-width="0.9"/>
<line x1="383.9" y1="242.6" x2="391.5" y2="242.6" stroke="#2eaee0" stroke-width="0.9"/>
<line x1="383.9" y1="277.4" x2="391.5" y2="277.4" stroke="#2eaee0" stroke-width="0.9"/>
<circle cx="363.2" cy="207.5" r="1.2" fill="#2b3142"/>
<circle cx="363.2" cy="211" r="1.2" fill="#2b3142"/>
<circle cx="363.2" cy="216.5" r="1.2" fill="#2b3142"/>
<circle cx="363.2" cy="231.5" r="1.2" fill="#2b3142"/>
<circle cx="363.2" cy="239.5" r="1.2" fill="#2b3142"/>
<circle cx="363.2" cy="242.5" r="1.2" fill="#2b3142"/>
<circle cx="360" cy="247.8" r="1.2" fill="#2b3142"/>
<circle cx="366.5" cy="247.8" r="1.2" fill="#2b3142"/>
<circle cx="360" cy="251" r="1.2" fill="#2b3142"/>
<circle cx="366.5" cy="251" r="1.2" fill="#2b3142"/>
<circle cx="366" cy="254.5" r="1.2" fill="#2b3142"/>
<circle cx="360.5" cy="256.5" r="1.2" fill="#2b3142"/>
<circle cx="366" cy="256.5" r="1.2" fill="#2b3142"/>
<circle cx="356.8" cy="265" r="1.2" fill="#2b3142"/>
<circle cx="356.8" cy="267.8" r="1.2" fill="#2b3142"/>
<circle cx="361" cy="266" r="1.2" fill="#2b3142"/>
<circle cx="365" cy="265.5" r="1.2" fill="#2b3142"/>
<circle cx="365" cy="268.5" r="1.2" fill="#2b3142"/>
<circle cx="369.8" cy="266" r="1.2" fill="#2b3142"/>
<circle cx="368.5" cy="266" r="1.2" fill="#2b3142"/>
<circle cx="387.4" cy="215.8" r="1.2" fill="#2a80b4"/>
<circle cx="387.4" cy="229" r="1.2" fill="#2a80b4"/>
<circle cx="385" cy="253.5" r="1.2" fill="#2a80b4"/>
<circle cx="390" cy="253.5" r="1.2" fill="#2a80b4"/>
<circle cx="387.4" cy="256.5" r="1.2" fill="#2a80b4"/>
<circle cx="387.4" cy="262" r="1.2" fill="#2a80b4"/>
<circle cx="384.8" cy="264.5" r="1.2" fill="#2a80b4"/>
<circle cx="390" cy="264.5" r="1.2" fill="#2a80b4"/>
<circle cx="384.8" cy="268" r="1.2" fill="#2a80b4"/>
<circle cx="390" cy="268.5" r="1.2" fill="#2a80b4"/>
<circle cx="394" cy="265" r="1.2" fill="#2a80b4"/>
<circle cx="394" cy="268.5" r="1.2" fill="#2a80b4"/>
<circle cx="384.8" cy="271" r="1.2" fill="#2a80b4"/>
<circle cx="390" cy="271" r="1.2" fill="#2a80b4"/>
<circle cx="394" cy="271.5" r="1.2" fill="#2a80b4"/>
<circle cx="387.4" cy="274.5" r="1.2" fill="#2a80b4"/>
<line x1="347.4" y1="190.6" x2="347.4" y2="277.95" stroke="#222" stroke-width="1.1"/>
<line x1="346.85" y1="277.4" x2="403.7" y2="277.4" stroke="#222" stroke-width="1.1"/>
<line x1="344.3" y1="193.4" x2="347.4" y2="193.4" stroke="#222" stroke-width="0.9"/>
<text x="341.7" y="196.2" font-size="7.9" text-anchor="end" stroke="#222" stroke-width="0.16">250</text>
<line x1="344.3" y1="210.2" x2="347.4" y2="210.2" stroke="#222" stroke-width="0.9"/>
<text x="341.7" y="213" font-size="7.9" text-anchor="end" stroke="#222" stroke-width="0.16">200</text>
<line x1="344.3" y1="227" x2="347.4" y2="227" stroke="#222" stroke-width="0.9"/>
<text x="341.7" y="229.8" font-size="7.9" text-anchor="end" stroke="#222" stroke-width="0.16">150</text>
<line x1="344.3" y1="243.8" x2="347.4" y2="243.8" stroke="#222" stroke-width="0.9"/>
<text x="341.7" y="246.6" font-size="7.9" text-anchor="end" stroke="#222" stroke-width="0.16">100</text>
<line x1="344.3" y1="260.6" x2="347.4" y2="260.6" stroke="#222" stroke-width="0.9"/>
<text x="341.7" y="263.4" font-size="7.9" text-anchor="end" stroke="#222" stroke-width="0.16">50</text>
<line x1="344.3" y1="277.4" x2="347.4" y2="277.4" stroke="#222" stroke-width="0.9"/>
<text x="341.7" y="280.2" font-size="7.9" text-anchor="end" stroke="#222" stroke-width="0.16">0</text>
<line x1="368" y1="194.3" x2="383.5" y2="194.3" stroke="#333" stroke-width="1"/>
<text x="375.75" y="190.9" font-size="7.9" text-anchor="middle" stroke="#222" stroke-width="0.16">ns</text>
<rect x="436.6" y="261.5" width="14.6" height="15.9" fill="#9d9dab"/>
<rect x="461" y="260.9" width="14.6" height="16.5" fill="#aed5f3"/>
<line x1="443.9" y1="244.5" x2="443.9" y2="277.4" stroke="#3a3f4d" stroke-width="0.9"/>
<line x1="440.1" y1="244.5" x2="447.7" y2="244.5" stroke="#3a3f4d" stroke-width="0.9"/>
<line x1="440.1" y1="277.4" x2="447.7" y2="277.4" stroke="#3a3f4d" stroke-width="0.9"/>
<line x1="468.2" y1="247.2" x2="468.2" y2="277.4" stroke="#2eaee0" stroke-width="0.9"/>
<line x1="464.4" y1="247.2" x2="472" y2="247.2" stroke="#2eaee0" stroke-width="0.9"/>
<line x1="464.4" y1="277.4" x2="472" y2="277.4" stroke="#2eaee0" stroke-width="0.9"/>
<circle cx="443.7" cy="202.5" r="1.2" fill="#2b3142"/>
<circle cx="443.7" cy="241.8" r="1.2" fill="#2b3142"/>
<circle cx="443.7" cy="251.5" r="1.2" fill="#2b3142"/>
<circle cx="443.7" cy="260.5" r="1.2" fill="#2b3142"/>
<circle cx="440" cy="265" r="1.2" fill="#2b3142"/>
<circle cx="446" cy="264" r="1.2" fill="#2b3142"/>
<circle cx="437" cy="266.5" r="1.2" fill="#2b3142"/>
<circle cx="440" cy="266.5" r="1.2" fill="#2b3142"/>
<circle cx="443.7" cy="266.5" r="1.2" fill="#2b3142"/>
<circle cx="447" cy="266.5" r="1.2" fill="#2b3142"/>
<circle cx="450.3" cy="266.5" r="1.2" fill="#2b3142"/>
<circle cx="443.7" cy="270.5" r="1.2" fill="#2b3142"/>
<circle cx="440" cy="272" r="1.2" fill="#2b3142"/>
<circle cx="446" cy="271" r="1.2" fill="#2b3142"/>
<circle cx="440" cy="273.8" r="1.2" fill="#2b3142"/>
<circle cx="446" cy="273.8" r="1.2" fill="#2b3142"/>
<circle cx="443.7" cy="275.5" r="1.2" fill="#2b3142"/>
<circle cx="467.9" cy="225.5" r="1.2" fill="#2a80b4"/>
<circle cx="467.9" cy="234" r="1.2" fill="#2a80b4"/>
<circle cx="464.5" cy="239.5" r="1.2" fill="#2a80b4"/>
<circle cx="467.9" cy="239.5" r="1.2" fill="#2a80b4"/>
<circle cx="471" cy="239.5" r="1.2" fill="#2a80b4"/>
<circle cx="471" cy="242.5" r="1.2" fill="#2a80b4"/>
<circle cx="465.5" cy="245" r="1.2" fill="#2a80b4"/>
<circle cx="467.9" cy="248" r="1.2" fill="#2a80b4"/>
<circle cx="467.9" cy="254" r="1.2" fill="#2a80b4"/>
<circle cx="465" cy="257.5" r="1.2" fill="#2a80b4"/>
<circle cx="470.5" cy="257.5" r="1.2" fill="#2a80b4"/>
<circle cx="462" cy="260.5" r="1.2" fill="#2a80b4"/>
<circle cx="465" cy="261" r="1.2" fill="#2a80b4"/>
<circle cx="468" cy="260.5" r="1.2" fill="#2a80b4"/>
<circle cx="471" cy="261" r="1.2" fill="#2a80b4"/>
<circle cx="474" cy="260.5" r="1.2" fill="#2a80b4"/>
<circle cx="461.5" cy="264" r="1.2" fill="#2a80b4"/>
<circle cx="464.5" cy="263.5" r="1.2" fill="#2a80b4"/>
<circle cx="467.5" cy="264" r="1.2" fill="#2a80b4"/>
<circle cx="470.5" cy="263.5" r="1.2" fill="#2a80b4"/>
<circle cx="474" cy="264" r="1.2" fill="#2a80b4"/>
<circle cx="463" cy="267" r="1.2" fill="#2a80b4"/>
<circle cx="466" cy="267.5" r="1.2" fill="#2a80b4"/>
<circle cx="469" cy="267" r="1.2" fill="#2a80b4"/>
<circle cx="472" cy="267.5" r="1.2" fill="#2a80b4"/>
<circle cx="461.5" cy="270" r="1.2" fill="#2a80b4"/>
<circle cx="464.5" cy="270.5" r="1.2" fill="#2a80b4"/>
<circle cx="467.9" cy="270" r="1.2" fill="#2a80b4"/>
<circle cx="471" cy="270.5" r="1.2" fill="#2a80b4"/>
<circle cx="474" cy="270" r="1.2" fill="#2a80b4"/>
<circle cx="463" cy="273" r="1.2" fill="#2a80b4"/>
<circle cx="466" cy="273.5" r="1.2" fill="#2a80b4"/>
<circle cx="469" cy="273" r="1.2" fill="#2a80b4"/>
<circle cx="472" cy="273.5" r="1.2" fill="#2a80b4"/>
<circle cx="465" cy="276" r="1.2" fill="#2a80b4"/>
<circle cx="470" cy="276" r="1.2" fill="#2a80b4"/>
<line x1="427.9" y1="190.6" x2="427.9" y2="277.95" stroke="#222" stroke-width="1.1"/>
<line x1="427.35" y1="277.4" x2="484.2" y2="277.4" stroke="#222" stroke-width="1.1"/>
<line x1="424.8" y1="193.4" x2="427.9" y2="193.4" stroke="#222" stroke-width="0.9"/>
<text x="422.2" y="196.2" font-size="7.9" text-anchor="end" stroke="#222" stroke-width="0.16">200</text>
<line x1="424.8" y1="214.4" x2="427.9" y2="214.4" stroke="#222" stroke-width="0.9"/>
<text x="422.2" y="217.2" font-size="7.9" text-anchor="end" stroke="#222" stroke-width="0.16">150</text>
<line x1="424.8" y1="235.4" x2="427.9" y2="235.4" stroke="#222" stroke-width="0.9"/>
<text x="422.2" y="238.2" font-size="7.9" text-anchor="end" stroke="#222" stroke-width="0.16">100</text>
<line x1="424.8" y1="256.4" x2="427.9" y2="256.4" stroke="#222" stroke-width="0.9"/>
<text x="422.2" y="259.2" font-size="7.9" text-anchor="end" stroke="#222" stroke-width="0.16">50</text>
<line x1="424.8" y1="277.4" x2="427.9" y2="277.4" stroke="#222" stroke-width="0.9"/>
<text x="422.2" y="280.2" font-size="7.9" text-anchor="end" stroke="#222" stroke-width="0.16">0</text>
<line x1="447.4" y1="194.3" x2="463.5" y2="194.3" stroke="#333" stroke-width="1"/>
<text x="455.45" y="190.9" font-size="7.9" text-anchor="middle" stroke="#222" stroke-width="0.16">ns</text>
<rect x="195.1" y="373.2" width="14.6" height="23.3" fill="#9d9dab"/>
<rect x="219.5" y="375.8" width="14.6" height="20.7" fill="#aed5f3"/>
<line x1="202.4" y1="353.3" x2="202.4" y2="391" stroke="#3a3f4d" stroke-width="0.9"/>
<line x1="198.6" y1="353.3" x2="206.2" y2="353.3" stroke="#3a3f4d" stroke-width="0.9"/>
<line x1="198.6" y1="391" x2="206.2" y2="391" stroke="#3a3f4d" stroke-width="0.9"/>
<line x1="226.7" y1="367.1" x2="226.7" y2="383.1" stroke="#2eaee0" stroke-width="0.9"/>
<line x1="222.9" y1="367.1" x2="230.5" y2="367.1" stroke="#2eaee0" stroke-width="0.9"/>
<line x1="222.9" y1="383.1" x2="230.5" y2="383.1" stroke="#2eaee0" stroke-width="0.9"/>
<circle cx="202.3" cy="328.6" r="1.2" fill="#2b3142"/>
<circle cx="206.8" cy="326.5" r="1.2" fill="#2b3142"/>
<circle cx="200" cy="371" r="1.2" fill="#2b3142"/>
<circle cx="204.5" cy="372" r="1.2" fill="#2b3142"/>
<circle cx="198" cy="374.5" r="1.2" fill="#2b3142"/>
<circle cx="202.3" cy="375" r="1.2" fill="#2b3142"/>
<circle cx="207" cy="374.5" r="1.2" fill="#2b3142"/>
<circle cx="198" cy="379" r="1.2" fill="#2b3142"/>
<circle cx="202.3" cy="379.5" r="1.2" fill="#2b3142"/>
<circle cx="207" cy="379" r="1.2" fill="#2b3142"/>
<circle cx="198" cy="382.5" r="1.2" fill="#2b3142"/>
<circle cx="202.3" cy="381.5" r="1.2" fill="#2b3142"/>
<circle cx="207" cy="382.5" r="1.2" fill="#2b3142"/>
<circle cx="202.3" cy="386.5" r="1.2" fill="#2b3142"/>
<circle cx="202.3" cy="391" r="1.2" fill="#2b3142"/>
<circle cx="226.4" cy="364" r="1.2" fill="#2a80b4"/>
<circle cx="226.4" cy="369.5" r="1.2" fill="#2a80b4"/>
<circle cx="222" cy="381" r="1.2" fill="#2a80b4"/>
<circle cx="226.4" cy="381" r="1.2" fill="#2a80b4"/>
<circle cx="231" cy="381" r="1.2" fill="#2a80b4"/>
<circle cx="226.4" cy="384" r="1.2" fill="#2a80b4"/>
<line x1="186.4" y1="309.7" x2="186.4" y2="397.05" stroke="#222" stroke-width="1.1"/>
<line x1="185.85" y1="396.5" x2="242.7" y2="396.5" stroke="#222" stroke-width="1.1"/>
<line x1="183.3" y1="312.5" x2="186.4" y2="312.5" stroke="#222" stroke-width="0.9"/>
<text x="180.7" y="315.3" font-size="7.9" text-anchor="end" stroke="#222" stroke-width="0.16">5</text>
<line x1="183.3" y1="329.3" x2="186.4" y2="329.3" stroke="#222" stroke-width="0.9"/>
<text x="180.7" y="332.1" font-size="7.9" text-anchor="end" stroke="#222" stroke-width="0.16">4</text>
<line x1="183.3" y1="346.1" x2="186.4" y2="346.1" stroke="#222" stroke-width="0.9"/>
<text x="180.7" y="348.9" font-size="7.9" text-anchor="end" stroke="#222" stroke-width="0.16">3</text>
<line x1="183.3" y1="362.9" x2="186.4" y2="362.9" stroke="#222" stroke-width="0.9"/>
<text x="180.7" y="365.7" font-size="7.9" text-anchor="end" stroke="#222" stroke-width="0.16">2</text>
<line x1="183.3" y1="379.7" x2="186.4" y2="379.7" stroke="#222" stroke-width="0.9"/>
<text x="180.7" y="382.5" font-size="7.9" text-anchor="end" stroke="#222" stroke-width="0.16">1</text>
<line x1="183.3" y1="396.5" x2="186.4" y2="396.5" stroke="#222" stroke-width="0.9"/>
<text x="180.7" y="399.3" font-size="7.9" text-anchor="end" stroke="#222" stroke-width="0.16">0</text>
<line x1="204.7" y1="313.4" x2="220.2" y2="313.4" stroke="#333" stroke-width="1"/>
<text x="212.45" y="310" font-size="7.9" text-anchor="middle" stroke="#222" stroke-width="0.16">ns</text>
<rect x="275.4" y="372.2" width="14.6" height="24.3" fill="#9d9dab"/>
<rect x="299.8" y="383.3" width="14.6" height="13.2" fill="#aed5f3"/>
<line x1="282.7" y1="343.1" x2="282.7" y2="396.5" stroke="#3a3f4d" stroke-width="0.9"/>
<line x1="278.9" y1="343.1" x2="286.5" y2="343.1" stroke="#3a3f4d" stroke-width="0.9"/>
<line x1="278.9" y1="396.5" x2="286.5" y2="396.5" stroke="#3a3f4d" stroke-width="0.9"/>
<line x1="307" y1="378.5" x2="307" y2="388.1" stroke="#2eaee0" stroke-width="0.9"/>
<line x1="303.2" y1="378.5" x2="310.8" y2="378.5" stroke="#2eaee0" stroke-width="0.9"/>
<line x1="303.2" y1="388.1" x2="310.8" y2="388.1" stroke="#2eaee0" stroke-width="0.9"/>
<circle cx="282.4" cy="316.1" r="1.2" fill="#2b3142"/>
<circle cx="282.3" cy="359" r="1.2" fill="#2b3142"/>
<circle cx="282.3" cy="367" r="1.2" fill="#2b3142"/>
<circle cx="280" cy="372.5" r="1.2" fill="#2b3142"/>
<circle cx="284.8" cy="372" r="1.2" fill="#2b3142"/>
<circle cx="280" cy="376.5" r="1.2" fill="#2b3142"/>
<circle cx="275.8" cy="377.5" r="1.2" fill="#2b3142"/>
<circle cx="280" cy="379.5" r="1.2" fill="#2b3142"/>
<circle cx="275.8" cy="381.5" r="1.2" fill="#2b3142"/>
<circle cx="280" cy="382" r="1.2" fill="#2b3142"/>
<circle cx="284.8" cy="381.5" r="1.2" fill="#2b3142"/>
<circle cx="289.8" cy="382" r="1.2" fill="#2b3142"/>
<circle cx="280" cy="384.5" r="1.2" fill="#2b3142"/>
<circle cx="284.8" cy="385" r="1.2" fill="#2b3142"/>
<circle cx="306.3" cy="372" r="1.2" fill="#2a80b4"/>
<circle cx="300.5" cy="384" r="1.2" fill="#2a80b4"/>
<circle cx="303.5" cy="384.5" r="1.2" fill="#2a80b4"/>
<circle cx="306.3" cy="384" r="1.2" fill="#2a80b4"/>
<circle cx="310" cy="383" r="1.2" fill="#2a80b4"/>
<circle cx="313.5" cy="384.5" r="1.2" fill="#2a80b4"/>
<circle cx="306.3" cy="388.5" r="1.2" fill="#2a80b4"/>
<line x1="266.7" y1="310.5" x2="266.7" y2="397.05" stroke="#222" stroke-width="1.1"/>
<line x1="264.1" y1="336.45" x2="269.7" y2="330.85" stroke="#222" stroke-width="1.15"/>
<line x1="264.1" y1="339.9" x2="269.7" y2="334.3" stroke="#222" stroke-width="1.15"/>
<line x1="266.15" y1="396.5" x2="323" y2="396.5" stroke="#222" stroke-width="1.1"/>
<line x1="263.6" y1="313.3" x2="266.7" y2="313.3" stroke="#222" stroke-width="0.9"/>
<text x="261" y="316.1" font-size="7.9" text-anchor="end" stroke="#222" stroke-width="0.16">20</text>
<line x1="263.6" y1="332.9" x2="266.7" y2="332.9" stroke="#222" stroke-width="0.9"/>
<text x="261" y="335.7" font-size="7.9" text-anchor="end" stroke="#222" stroke-width="0.16">10</text>
<line x1="263.6" y1="343.9" x2="266.7" y2="343.9" stroke="#222" stroke-width="0.9"/>
<text x="261" y="346.7" font-size="7.9" text-anchor="end" stroke="#222" stroke-width="0.16">8</text>
<line x1="263.6" y1="357.1" x2="266.7" y2="357.1" stroke="#222" stroke-width="0.9"/>
<text x="261" y="359.9" font-size="7.9" text-anchor="end" stroke="#222" stroke-width="0.16">6</text>
<line x1="263.6" y1="370.3" x2="266.7" y2="370.3" stroke="#222" stroke-width="0.9"/>
<text x="261" y="373.1" font-size="7.9" text-anchor="end" stroke="#222" stroke-width="0.16">4</text>
<line x1="263.6" y1="383.4" x2="266.7" y2="383.4" stroke="#222" stroke-width="0.9"/>
<text x="261" y="386.2" font-size="7.9" text-anchor="end" stroke="#222" stroke-width="0.16">2</text>
<line x1="263.6" y1="396.5" x2="266.7" y2="396.5" stroke="#222" stroke-width="0.9"/>
<text x="261" y="399.3" font-size="7.9" text-anchor="end" stroke="#222" stroke-width="0.16">0</text>
<line x1="288" y1="313.4" x2="303.9" y2="313.4" stroke="#333" stroke-width="1"/>
<text x="295.95" y="310" font-size="7.9" text-anchor="middle" stroke="#222" stroke-width="0.16">ns</text>
<rect x="356.1" y="354.8" width="14.6" height="41.7" fill="#9d9dab"/>
<rect x="380.5" y="369.1" width="14.6" height="27.4" fill="#aed5f3"/>
<line x1="363.4" y1="338.9" x2="363.4" y2="368.7" stroke="#3a3f4d" stroke-width="0.9"/>
<line x1="359.6" y1="338.9" x2="367.2" y2="338.9" stroke="#3a3f4d" stroke-width="0.9"/>
<line x1="359.6" y1="368.7" x2="367.2" y2="368.7" stroke="#3a3f4d" stroke-width="0.9"/>
<line x1="387.7" y1="358.1" x2="387.7" y2="379.1" stroke="#2eaee0" stroke-width="0.9"/>
<line x1="383.9" y1="358.1" x2="391.5" y2="358.1" stroke="#2eaee0" stroke-width="0.9"/>
<line x1="383.9" y1="379.1" x2="391.5" y2="379.1" stroke="#2eaee0" stroke-width="0.9"/>
<circle cx="359" cy="332.6" r="1.2" fill="#2b3142"/>
<circle cx="368" cy="332.6" r="1.2" fill="#2b3142"/>
<circle cx="359" cy="339.5" r="1.2" fill="#2b3142"/>
<circle cx="363.4" cy="339" r="1.2" fill="#2b3142"/>
<circle cx="368" cy="339.5" r="1.2" fill="#2b3142"/>
<circle cx="363.4" cy="344.5" r="1.2" fill="#2b3142"/>
<circle cx="359" cy="348" r="1.2" fill="#2b3142"/>
<circle cx="368" cy="348" r="1.2" fill="#2b3142"/>
<circle cx="363.4" cy="355" r="1.2" fill="#2b3142"/>
<circle cx="357" cy="358" r="1.2" fill="#2b3142"/>
<circle cx="361" cy="358" r="1.2" fill="#2b3142"/>
<circle cx="366" cy="358" r="1.2" fill="#2b3142"/>
<circle cx="370" cy="358" r="1.2" fill="#2b3142"/>
<circle cx="363.4" cy="362" r="1.2" fill="#2b3142"/>
<circle cx="357" cy="363" r="1.2" fill="#2b3142"/>
<circle cx="370" cy="363" r="1.2" fill="#2b3142"/>
<circle cx="359" cy="368.7" r="1.2" fill="#2b3142"/>
<circle cx="366" cy="369" r="1.2" fill="#2b3142"/>
<circle cx="363.4" cy="372" r="1.2" fill="#2b3142"/>
<circle cx="357" cy="374.5" r="1.2" fill="#2b3142"/>
<circle cx="361" cy="374" r="1.2" fill="#2b3142"/>
<circle cx="366" cy="374" r="1.2" fill="#2b3142"/>
<circle cx="370" cy="374.5" r="1.2" fill="#2b3142"/>
<circle cx="387.7" cy="348" r="1.2" fill="#2a80b4"/>
<circle cx="387.7" cy="356.5" r="1.2" fill="#2a80b4"/>
<circle cx="380.8" cy="363.5" r="1.2" fill="#2a80b4"/>
<circle cx="387.7" cy="363" r="1.2" fill="#2a80b4"/>
<circle cx="394.4" cy="363.5" r="1.2" fill="#2a80b4"/>
<circle cx="385" cy="369" r="1.2" fill="#2a80b4"/>
<circle cx="390" cy="369" r="1.2" fill="#2a80b4"/>
<circle cx="382" cy="373" r="1.2" fill="#2a80b4"/>
<circle cx="387.7" cy="373" r="1.2" fill="#2a80b4"/>
<circle cx="393" cy="373" r="1.2" fill="#2a80b4"/>
<circle cx="382" cy="376.5" r="1.2" fill="#2a80b4"/>
<circle cx="393" cy="376.5" r="1.2" fill="#2a80b4"/>
<circle cx="385" cy="380" r="1.2" fill="#2a80b4"/>
<circle cx="390" cy="380" r="1.2" fill="#2a80b4"/>
<circle cx="387.7" cy="382.5" r="1.2" fill="#2a80b4"/>
<line x1="347.4" y1="309.7" x2="347.4" y2="397.05" stroke="#222" stroke-width="1.1"/>
<line x1="346.85" y1="396.5" x2="403.7" y2="396.5" stroke="#222" stroke-width="1.1"/>
<line x1="344.3" y1="312.5" x2="347.4" y2="312.5" stroke="#222" stroke-width="0.9"/>
<text x="341.7" y="315.3" font-size="7.9" text-anchor="end" stroke="#222" stroke-width="0.16">20</text>
<line x1="344.3" y1="333.5" x2="347.4" y2="333.5" stroke="#222" stroke-width="0.9"/>
<text x="341.7" y="336.3" font-size="7.9" text-anchor="end" stroke="#222" stroke-width="0.16">15</text>
<line x1="344.3" y1="354.5" x2="347.4" y2="354.5" stroke="#222" stroke-width="0.9"/>
<text x="341.7" y="357.3" font-size="7.9" text-anchor="end" stroke="#222" stroke-width="0.16">10</text>
<line x1="344.3" y1="375.5" x2="347.4" y2="375.5" stroke="#222" stroke-width="0.9"/>
<text x="341.7" y="378.3" font-size="7.9" text-anchor="end" stroke="#222" stroke-width="0.16">5</text>
<line x1="344.3" y1="396.5" x2="347.4" y2="396.5" stroke="#222" stroke-width="0.9"/>
<text x="341.7" y="399.3" font-size="7.9" text-anchor="end" stroke="#222" stroke-width="0.16">0</text>
<line x1="366.7" y1="313.4" x2="382.6" y2="313.4" stroke="#333" stroke-width="1"/>
<text x="374.65" y="313.5" font-size="7.9" text-anchor="middle" stroke="#222" stroke-width="0.16">**</text>
<rect x="436.6" y="364.8" width="14.6" height="31.7" fill="#9d9dab"/>
<rect x="461" y="366" width="14.6" height="30.5" fill="#aed5f3"/>
<line x1="443.9" y1="351.7" x2="443.9" y2="373.7" stroke="#3a3f4d" stroke-width="0.9"/>
<line x1="440.1" y1="351.7" x2="447.7" y2="351.7" stroke="#3a3f4d" stroke-width="0.9"/>
<line x1="440.1" y1="373.7" x2="447.7" y2="373.7" stroke="#3a3f4d" stroke-width="0.9"/>
<line x1="468.2" y1="356.3" x2="468.2" y2="370.9" stroke="#2eaee0" stroke-width="0.9"/>
<line x1="464.4" y1="356.3" x2="472" y2="356.3" stroke="#2eaee0" stroke-width="0.9"/>
<line x1="464.4" y1="370.9" x2="472" y2="370.9" stroke="#2eaee0" stroke-width="0.9"/>
<circle cx="443.7" cy="323.3" r="1.2" fill="#2b3142"/>
<circle cx="442" cy="355" r="1.2" fill="#2b3142"/>
<circle cx="445" cy="356" r="1.2" fill="#2b3142"/>
<circle cx="443.7" cy="358" r="1.2" fill="#2b3142"/>
<circle cx="443.7" cy="360.5" r="1.2" fill="#2b3142"/>
<circle cx="441" cy="362" r="1.2" fill="#2b3142"/>
<circle cx="446" cy="362" r="1.2" fill="#2b3142"/>
<circle cx="437" cy="365" r="1.2" fill="#2b3142"/>
<circle cx="440" cy="364" r="1.2" fill="#2b3142"/>
<circle cx="443" cy="365" r="1.2" fill="#2b3142"/>
<circle cx="446" cy="364" r="1.2" fill="#2b3142"/>
<circle cx="449.5" cy="365" r="1.2" fill="#2b3142"/>
<circle cx="440" cy="367" r="1.2" fill="#2b3142"/>
<circle cx="446" cy="367.5" r="1.2" fill="#2b3142"/>
<circle cx="443.7" cy="369" r="1.2" fill="#2b3142"/>
<circle cx="443.7" cy="371.5" r="1.2" fill="#2b3142"/>
<circle cx="443.7" cy="380.5" r="1.2" fill="#2b3142"/>
<circle cx="467.5" cy="347.8" r="1.2" fill="#2a80b4"/>
<circle cx="467.5" cy="352" r="1.2" fill="#2a80b4"/>
<circle cx="466" cy="356" r="1.2" fill="#2a80b4"/>
<circle cx="469" cy="355.5" r="1.2" fill="#2a80b4"/>
<circle cx="467.9" cy="358" r="1.2" fill="#2a80b4"/>
<circle cx="466" cy="360" r="1.2" fill="#2a80b4"/>
<circle cx="470" cy="359.5" r="1.2" fill="#2a80b4"/>
<circle cx="463" cy="362" r="1.2" fill="#2a80b4"/>
<circle cx="465.5" cy="362" r="1.2" fill="#2a80b4"/>
<circle cx="468" cy="361.5" r="1.2" fill="#2a80b4"/>
<circle cx="470.5" cy="362" r="1.2" fill="#2a80b4"/>
<circle cx="473" cy="362" r="1.2" fill="#2a80b4"/>
<circle cx="461.5" cy="365" r="1.2" fill="#2a80b4"/>
<circle cx="464" cy="364" r="1.2" fill="#2a80b4"/>
<circle cx="467.9" cy="364" r="1.2" fill="#2a80b4"/>
<circle cx="471" cy="364" r="1.2" fill="#2a80b4"/>
<circle cx="474" cy="365" r="1.2" fill="#2a80b4"/>
<circle cx="462" cy="367" r="1.2" fill="#2a80b4"/>
<circle cx="466" cy="367" r="1.2" fill="#2a80b4"/>
<circle cx="470" cy="367" r="1.2" fill="#2a80b4"/>
<circle cx="473" cy="367" r="1.2" fill="#2a80b4"/>
<circle cx="464" cy="369.5" r="1.2" fill="#2a80b4"/>
<circle cx="467" cy="369" r="1.2" fill="#2a80b4"/>
<circle cx="471" cy="369.5" r="1.2" fill="#2a80b4"/>
<circle cx="466" cy="372" r="1.2" fill="#2a80b4"/>
<circle cx="469" cy="373" r="1.2" fill="#2a80b4"/>
<circle cx="467.9" cy="375.5" r="1.2" fill="#2a80b4"/>
<line x1="427.9" y1="309.7" x2="427.9" y2="397.05" stroke="#222" stroke-width="1.1"/>
<line x1="427.35" y1="396.5" x2="484.2" y2="396.5" stroke="#222" stroke-width="1.1"/>
<line x1="424.8" y1="312.5" x2="427.9" y2="312.5" stroke="#222" stroke-width="0.9"/>
<text x="422.2" y="315.3" font-size="7.9" text-anchor="end" stroke="#222" stroke-width="0.16">15</text>
<line x1="424.8" y1="340.5" x2="427.9" y2="340.5" stroke="#222" stroke-width="0.9"/>
<text x="422.2" y="343.3" font-size="7.9" text-anchor="end" stroke="#222" stroke-width="0.16">10</text>
<line x1="424.8" y1="368.5" x2="427.9" y2="368.5" stroke="#222" stroke-width="0.9"/>
<text x="422.2" y="371.3" font-size="7.9" text-anchor="end" stroke="#222" stroke-width="0.16">5</text>
<line x1="424.8" y1="396.5" x2="427.9" y2="396.5" stroke="#222" stroke-width="0.9"/>
<text x="422.2" y="399.3" font-size="7.9" text-anchor="end" stroke="#222" stroke-width="0.16">0</text>
<line x1="448" y1="313.4" x2="463.9" y2="313.4" stroke="#333" stroke-width="1"/>
<text x="455.95" y="310" font-size="7.9" text-anchor="middle" stroke="#222" stroke-width="0.16">ns</text>
<text x="142" y="59.9" font-size="11.4" font-weight="bold" fill="#000" stroke="#000" stroke-width="0.16">D</text>
<text x="252" y="59.9" font-size="11.4" font-weight="bold" fill="#000" stroke="#000" stroke-width="0.16">G</text>
<text x="332" y="59.9" font-size="11.4" font-weight="bold" fill="#000" stroke="#000" stroke-width="0.16">J</text>
<text x="412.1" y="59.9" font-size="11.4" font-weight="bold" fill="#000" stroke="#000" stroke-width="0.16">M</text>
<text x="142.2" y="179.6" font-size="11.4" font-weight="bold" fill="#000" stroke="#000" stroke-width="0.16">E</text>
<text x="252" y="179.6" font-size="11.4" font-weight="bold" fill="#000" stroke="#000" stroke-width="0.16">H</text>
<text x="328.3" y="179.6" font-size="11.4" font-weight="bold" fill="#000" stroke="#000" stroke-width="0.16">K</text>
<text x="408.5" y="179.6" font-size="11.4" font-weight="bold" fill="#000" stroke="#000" stroke-width="0.16">N</text>
<text x="146.2" y="301" font-size="11.4" font-weight="bold" fill="#000" stroke="#000" stroke-width="0.16">F</text>
<text x="252" y="301" font-size="11.4" font-weight="bold" fill="#000" stroke="#000" stroke-width="0.16">I</text>
<text x="332.7" y="301" font-size="11.4" font-weight="bold" fill="#000" stroke="#000" stroke-width="0.16">L</text>
<text x="412.5" y="301" font-size="11.4" font-weight="bold" fill="#000" stroke="#000" stroke-width="0.16">O</text>
<text x="0" y="0" font-size="8.8" text-anchor="middle" transform="translate(149.6 113.6) rotate(-90) scale(0.65 1)" stroke="#222" stroke-width="0.22">HSCs</text>
<text x="0" y="0" font-size="8.2" text-anchor="middle" transform="translate(164 114) rotate(-90) scale(0.82 1)" stroke="#222" stroke-width="0.22"># of HSCs (×10<tspan dy="-2.8" font-size="5.2">3</tspan><tspan dy="2.8">)</tspan></text>
<text x="0" y="0" font-size="8.8" text-anchor="middle" transform="translate(151.3 235.5) rotate(-90) scale(0.76 1)" stroke="#222" stroke-width="0.22">MPP3/4s</text>
<text x="0" y="0" font-size="8.2" text-anchor="middle" transform="translate(166.3 235.5) rotate(-90) scale(0.85 1)" stroke="#222" stroke-width="0.22"># of MPP3/4s (×10<tspan dy="-2.8" font-size="5.2">3</tspan><tspan dy="2.8">)</tspan></text>
<text x="0" y="0" font-size="8.8" text-anchor="middle" transform="translate(153.8 352.7) rotate(-90) scale(0.71 1)" stroke="#222" stroke-width="0.22">Total cells</text>
<text x="0" y="0" font-size="8.2" text-anchor="middle" transform="translate(170.4 352.5) rotate(-90) scale(0.86 1)" stroke="#222" stroke-width="0.22"># of total cells (×10<tspan dy="-2.8" font-size="5.2">7</tspan><tspan dy="2.8">)</tspan></text>
<text x="6.7" y="433.4" font-size="11.4" font-weight="bold" fill="#000" stroke="#000" stroke-width="0.16">P</text>
<rect x="49" y="476.7" width="14.2" height="54.7" fill="#9d9dab"/>
<rect x="67.7" y="491.9" width="14.3" height="39.5" fill="#aed5f3"/>
<line x1="56.1" y1="461.9" x2="56.1" y2="493" stroke="#3a3f4d" stroke-width="0.9"/>
<line x1="52.3" y1="461.9" x2="59.9" y2="461.9" stroke="#3a3f4d" stroke-width="0.9"/>
<line x1="52.3" y1="493" x2="59.9" y2="493" stroke="#3a3f4d" stroke-width="0.9"/>
<line x1="74.85" y1="474" x2="74.85" y2="506.7" stroke="#2eaee0" stroke-width="0.9"/>
<line x1="71.05" y1="474" x2="78.65" y2="474" stroke="#2eaee0" stroke-width="0.9"/>
<line x1="71.05" y1="506.7" x2="78.65" y2="506.7" stroke="#2eaee0" stroke-width="0.9"/>
<circle cx="53.6" cy="461.9" r="1.2" fill="#2b3142"/>
<circle cx="58.2" cy="462.4" r="1.2" fill="#2b3142"/>
<circle cx="56" cy="478" r="1.2" fill="#2b3142"/>
<circle cx="56" cy="485.5" r="1.2" fill="#2b3142"/>
<circle cx="56" cy="491" r="1.2" fill="#2b3142"/>
<circle cx="56" cy="494" r="1.2" fill="#2b3142"/>
<circle cx="74.5" cy="474.2" r="1.2" fill="#2a80b4"/>
<circle cx="72.5" cy="474.5" r="1.2" fill="#2a80b4"/>
<circle cx="74.5" cy="490" r="1.2" fill="#2a80b4"/>
<circle cx="74.5" cy="497" r="1.2" fill="#2a80b4"/>
<circle cx="74.5" cy="512.5" r="1.2" fill="#2a80b4"/>
<line x1="44.1" y1="444.9" x2="44.1" y2="531.95" stroke="#222" stroke-width="1.1"/>
<line x1="43.55" y1="531.4" x2="86.3" y2="531.4" stroke="#222" stroke-width="1.1"/>
<line x1="41" y1="447.5" x2="44.1" y2="447.5" stroke="#222" stroke-width="0.9"/>
<text x="38.4" y="450.3" font-size="7.9" text-anchor="end" stroke="#222" stroke-width="0.16">15</text>
<line x1="41" y1="475.47" x2="44.1" y2="475.47" stroke="#222" stroke-width="0.9"/>
<text x="38.4" y="478.27" font-size="7.9" text-anchor="end" stroke="#222" stroke-width="0.16">10</text>
<line x1="41" y1="503.43" x2="44.1" y2="503.43" stroke="#222" stroke-width="0.9"/>
<text x="38.4" y="506.23" font-size="7.9" text-anchor="end" stroke="#222" stroke-width="0.16">5</text>
<line x1="41" y1="531.4" x2="44.1" y2="531.4" stroke="#222" stroke-width="0.9"/>
<text x="38.4" y="534.2" font-size="7.9" text-anchor="end" stroke="#222" stroke-width="0.16">0</text>
<line x1="60.3" y1="447.6" x2="75.1" y2="447.6" stroke="#333" stroke-width="1"/>
<text x="67.7" y="444.2" font-size="7.9" text-anchor="middle" stroke="#222" stroke-width="0.16">ns</text>
<text x="65.1" y="433.8" font-size="9" text-anchor="middle" stroke="#222" stroke-width="0.16">White blood cells</text>
<text x="0" y="0" font-size="9.2" text-anchor="middle" transform="translate(24.2 488) rotate(-90) scale(0.79 1)" stroke="#222" stroke-width="0.22">10<tspan dy="-3" font-size="4.8">3</tspan><tspan dy="3">/µl</tspan></text>
<rect x="148.1" y="468.1" width="14.4" height="63.3" fill="#9d9dab"/>
<rect x="167.3" y="481.2" width="14.4" height="50.2" fill="#aed5f3"/>
<line x1="155.3" y1="455.6" x2="155.3" y2="478.7" stroke="#3a3f4d" stroke-width="0.9"/>
<line x1="151.5" y1="455.6" x2="159.1" y2="455.6" stroke="#3a3f4d" stroke-width="0.9"/>
<line x1="151.5" y1="478.7" x2="159.1" y2="478.7" stroke="#3a3f4d" stroke-width="0.9"/>
<line x1="174.5" y1="464.6" x2="174.5" y2="496.5" stroke="#2eaee0" stroke-width="0.9"/>
<line x1="170.7" y1="464.6" x2="178.3" y2="464.6" stroke="#2eaee0" stroke-width="0.9"/>
<line x1="170.7" y1="496.5" x2="178.3" y2="496.5" stroke="#2eaee0" stroke-width="0.9"/>
<circle cx="155.4" cy="452" r="1.2" fill="#2b3142"/>
<circle cx="152" cy="464" r="1.2" fill="#2b3142"/>
<circle cx="158" cy="464" r="1.2" fill="#2b3142"/>
<circle cx="155.4" cy="478.7" r="1.2" fill="#2b3142"/>
<circle cx="152" cy="478" r="1.2" fill="#2b3142"/>
<circle cx="158" cy="478" r="1.2" fill="#2b3142"/>
<circle cx="172" cy="469" r="1.2" fill="#2a80b4"/>
<circle cx="177" cy="469" r="1.2" fill="#2a80b4"/>
<circle cx="174.6" cy="482.5" r="1.2" fill="#2a80b4"/>
<circle cx="174.6" cy="507" r="1.2" fill="#2a80b4"/>
<line x1="143.6" y1="444.7" x2="143.6" y2="531.95" stroke="#222" stroke-width="1.1"/>
<line x1="143.05" y1="531.4" x2="185.6" y2="531.4" stroke="#222" stroke-width="1.1"/>
<line x1="140.5" y1="447.3" x2="143.6" y2="447.3" stroke="#222" stroke-width="0.9"/>
<text x="137.9" y="450.1" font-size="7.9" text-anchor="end" stroke="#222" stroke-width="0.16">1000</text>
<line x1="140.5" y1="464.12" x2="143.6" y2="464.12" stroke="#222" stroke-width="0.9"/>
<text x="137.9" y="466.92" font-size="7.9" text-anchor="end" stroke="#222" stroke-width="0.16">800</text>
<line x1="140.5" y1="480.94" x2="143.6" y2="480.94" stroke="#222" stroke-width="0.9"/>
<text x="137.9" y="483.74" font-size="7.9" text-anchor="end" stroke="#222" stroke-width="0.16">600</text>
<line x1="140.5" y1="497.76" x2="143.6" y2="497.76" stroke="#222" stroke-width="0.9"/>
<text x="137.9" y="500.56" font-size="7.9" text-anchor="end" stroke="#222" stroke-width="0.16">400</text>
<line x1="140.5" y1="514.58" x2="143.6" y2="514.58" stroke="#222" stroke-width="0.9"/>
<text x="137.9" y="517.38" font-size="7.9" text-anchor="end" stroke="#222" stroke-width="0.16">200</text>
<line x1="140.5" y1="531.4" x2="143.6" y2="531.4" stroke="#222" stroke-width="0.9"/>
<text x="137.9" y="534.2" font-size="7.9" text-anchor="end" stroke="#222" stroke-width="0.16">0</text>
<line x1="160.6" y1="448.5" x2="176" y2="448.5" stroke="#333" stroke-width="1"/>
<text x="168.3" y="445.1" font-size="7.9" text-anchor="middle" stroke="#222" stroke-width="0.16">ns</text>
<text x="164.7" y="433.6" font-size="9" text-anchor="middle" stroke="#222" stroke-width="0.16">Platelets</text>
<text x="0" y="0" font-size="9.2" text-anchor="middle" transform="translate(113 489.2) rotate(-90) scale(0.79 1)" stroke="#222" stroke-width="0.22">10<tspan dy="-3" font-size="4.8">3</tspan><tspan dy="3">/µl</tspan></text>
<rect x="220.4" y="502.1" width="14.2" height="29.3" fill="#9d9dab"/>
<rect x="239.6" y="507.5" width="14.2" height="23.9" fill="#aed5f3"/>
<line x1="227.5" y1="478.7" x2="227.5" y2="523.5" stroke="#3a3f4d" stroke-width="0.9"/>
<line x1="223.7" y1="478.7" x2="231.3" y2="478.7" stroke="#3a3f4d" stroke-width="0.9"/>
<line x1="223.7" y1="523.5" x2="231.3" y2="523.5" stroke="#3a3f4d" stroke-width="0.9"/>
<line x1="246.7" y1="492.1" x2="246.7" y2="521" stroke="#2eaee0" stroke-width="0.9"/>
<line x1="242.9" y1="492.1" x2="250.5" y2="492.1" stroke="#2eaee0" stroke-width="0.9"/>
<line x1="242.9" y1="521" x2="250.5" y2="521" stroke="#2eaee0" stroke-width="0.9"/>
<circle cx="227.5" cy="462.3" r="1.2" fill="#2b3142"/>
<circle cx="224" cy="506.5" r="1.2" fill="#2b3142"/>
<circle cx="231" cy="505" r="1.2" fill="#2b3142"/>
<circle cx="224" cy="515.5" r="1.2" fill="#2b3142"/>
<circle cx="231" cy="515.5" r="1.2" fill="#2b3142"/>
<circle cx="246.7" cy="484.6" r="1.2" fill="#2a80b4"/>
<circle cx="246.7" cy="499" r="1.2" fill="#2a80b4"/>
<circle cx="243" cy="512" r="1.2" fill="#2a80b4"/>
<circle cx="250" cy="513" r="1.2" fill="#2a80b4"/>
<circle cx="246.7" cy="521.5" r="1.2" fill="#2a80b4"/>
<line x1="215.8" y1="444.3" x2="215.8" y2="531.95" stroke="#222" stroke-width="1.1"/>
<line x1="215.25" y1="531.4" x2="258.3" y2="531.4" stroke="#222" stroke-width="1.1"/>
<line x1="212.7" y1="446.9" x2="215.8" y2="446.9" stroke="#222" stroke-width="0.9"/>
<text x="210.1" y="449.7" font-size="7.9" text-anchor="end" stroke="#222" stroke-width="0.16">6</text>
<line x1="212.7" y1="475.07" x2="215.8" y2="475.07" stroke="#222" stroke-width="0.9"/>
<text x="210.1" y="477.87" font-size="7.9" text-anchor="end" stroke="#222" stroke-width="0.16">4</text>
<line x1="212.7" y1="503.23" x2="215.8" y2="503.23" stroke="#222" stroke-width="0.9"/>
<text x="210.1" y="506.03" font-size="7.9" text-anchor="end" stroke="#222" stroke-width="0.16">2</text>
<line x1="212.7" y1="531.4" x2="215.8" y2="531.4" stroke="#222" stroke-width="0.9"/>
<text x="210.1" y="534.2" font-size="7.9" text-anchor="end" stroke="#222" stroke-width="0.16">0</text>
<line x1="232.7" y1="449.4" x2="248.7" y2="449.4" stroke="#333" stroke-width="1"/>
<text x="240.7" y="446" font-size="7.9" text-anchor="middle" stroke="#222" stroke-width="0.16">ns</text>
<text x="238.6" y="433.6" font-size="9" text-anchor="middle" stroke="#222" stroke-width="0.16">Neutrophils</text>
<text x="0" y="0" font-size="9.2" text-anchor="middle" transform="translate(200.7 489.2) rotate(-90) scale(0.79 1)" stroke="#222" stroke-width="0.22">10<tspan dy="-3" font-size="4.8">3</tspan><tspan dy="3">/µl</tspan></text>
<rect x="297.3" y="458.5" width="14" height="72.9" fill="#9d9dab"/>
<rect x="316.5" y="469" width="14.1" height="62.4" fill="#aed5f3"/>
<line x1="304.3" y1="455.6" x2="304.3" y2="460.8" stroke="#3a3f4d" stroke-width="0.9"/>
<line x1="300.5" y1="455.6" x2="308.1" y2="455.6" stroke="#3a3f4d" stroke-width="0.9"/>
<line x1="300.5" y1="460.8" x2="308.1" y2="460.8" stroke="#3a3f4d" stroke-width="0.9"/>
<line x1="323.55" y1="456.9" x2="323.55" y2="477.3" stroke="#2eaee0" stroke-width="0.9"/>
<line x1="319.75" y1="456.9" x2="327.35" y2="456.9" stroke="#2eaee0" stroke-width="0.9"/>
<line x1="319.75" y1="477.3" x2="327.35" y2="477.3" stroke="#2eaee0" stroke-width="0.9"/>
<circle cx="299" cy="458" r="1.2" fill="#2b3142"/>
<circle cx="302" cy="457" r="1.2" fill="#2b3142"/>
<circle cx="305" cy="457.5" r="1.2" fill="#2b3142"/>
<circle cx="309" cy="458" r="1.2" fill="#2b3142"/>
<circle cx="304.2" cy="456" r="1.2" fill="#2b3142"/>
<circle cx="323.5" cy="457" r="1.2" fill="#2a80b4"/>
<circle cx="321" cy="462.5" r="1.2" fill="#2a80b4"/>
<circle cx="326" cy="463" r="1.2" fill="#2a80b4"/>
<circle cx="323.5" cy="470" r="1.2" fill="#2a80b4"/>
<circle cx="323.5" cy="480" r="1.2" fill="#2a80b4"/>
<line x1="292.7" y1="444.9" x2="292.7" y2="531.95" stroke="#222" stroke-width="1.1"/>
<line x1="292.15" y1="531.4" x2="334.4" y2="531.4" stroke="#222" stroke-width="1.1"/>
<line x1="289.6" y1="447.5" x2="292.7" y2="447.5" stroke="#222" stroke-width="0.9"/>
<text x="287" y="450.3" font-size="7.9" text-anchor="end" stroke="#222" stroke-width="0.16">15</text>
<line x1="289.6" y1="475.47" x2="292.7" y2="475.47" stroke="#222" stroke-width="0.9"/>
<text x="287" y="478.27" font-size="7.9" text-anchor="end" stroke="#222" stroke-width="0.16">10</text>
<line x1="289.6" y1="503.43" x2="292.7" y2="503.43" stroke="#222" stroke-width="0.9"/>
<text x="287" y="506.23" font-size="7.9" text-anchor="end" stroke="#222" stroke-width="0.16">5</text>
<line x1="289.6" y1="531.4" x2="292.7" y2="531.4" stroke="#222" stroke-width="0.9"/>
<text x="287" y="534.2" font-size="7.9" text-anchor="end" stroke="#222" stroke-width="0.16">0</text>
<line x1="306.2" y1="449.8" x2="321.5" y2="449.8" stroke="#333" stroke-width="1"/>
<text x="313.85" y="446.4" font-size="7.9" text-anchor="middle" stroke="#222" stroke-width="0.16">ns</text>
<text x="314" y="433.6" font-size="9" text-anchor="middle" stroke="#222" stroke-width="0.16">Hemoglobin</text>
<text x="0" y="0" font-size="9.2" text-anchor="middle" transform="translate(275 489.6) rotate(-90) scale(0.74 1)" stroke="#222" stroke-width="0.22">g/dl</text>
<rect x="376.7" y="456.5" width="14.5" height="74.9" fill="#9d9dab"/>
<rect x="396" y="469.6" width="14.4" height="61.8" fill="#aed5f3"/>
<line x1="383.95" y1="449.8" x2="383.95" y2="460.8" stroke="#3a3f4d" stroke-width="0.9"/>
<line x1="380.15" y1="449.8" x2="387.75" y2="449.8" stroke="#3a3f4d" stroke-width="0.9"/>
<line x1="380.15" y1="460.8" x2="387.75" y2="460.8" stroke="#3a3f4d" stroke-width="0.9"/>
<line x1="403.2" y1="459.4" x2="403.2" y2="478.7" stroke="#2eaee0" stroke-width="0.9"/>
<line x1="399.4" y1="459.4" x2="407" y2="459.4" stroke="#2eaee0" stroke-width="0.9"/>
<line x1="399.4" y1="478.7" x2="407" y2="478.7" stroke="#2eaee0" stroke-width="0.9"/>
<circle cx="384.4" cy="450" r="1.2" fill="#2b3142"/>
<circle cx="381" cy="453" r="1.2" fill="#2b3142"/>
<circle cx="388" cy="453" r="1.2" fill="#2b3142"/>
<circle cx="384.4" cy="456" r="1.2" fill="#2b3142"/>
<circle cx="381" cy="459" r="1.2" fill="#2b3142"/>
<circle cx="388" cy="460" r="1.2" fill="#2b3142"/>
<circle cx="384.4" cy="461" r="1.2" fill="#2b3142"/>
<circle cx="403.7" cy="460" r="1.2" fill="#2a80b4"/>
<circle cx="401" cy="465" r="1.2" fill="#2a80b4"/>
<circle cx="406" cy="465" r="1.2" fill="#2a80b4"/>
<circle cx="403.7" cy="472" r="1.2" fill="#2a80b4"/>
<circle cx="401" cy="478" r="1.2" fill="#2a80b4"/>
<circle cx="406" cy="478" r="1.2" fill="#2a80b4"/>
<line x1="372.3" y1="443.9" x2="372.3" y2="531.95" stroke="#222" stroke-width="1.1"/>
<line x1="371.75" y1="531.4" x2="414.2" y2="531.4" stroke="#222" stroke-width="1.1"/>
<line x1="369.2" y1="446.5" x2="372.3" y2="446.5" stroke="#222" stroke-width="0.9"/>
<text x="366.6" y="449.3" font-size="7.9" text-anchor="end" stroke="#222" stroke-width="0.16">10</text>
<line x1="369.2" y1="463.48" x2="372.3" y2="463.48" stroke="#222" stroke-width="0.9"/>
<text x="366.6" y="466.28" font-size="7.9" text-anchor="end" stroke="#222" stroke-width="0.16">8</text>
<line x1="369.2" y1="480.46" x2="372.3" y2="480.46" stroke="#222" stroke-width="0.9"/>
<text x="366.6" y="483.26" font-size="7.9" text-anchor="end" stroke="#222" stroke-width="0.16">6</text>
<line x1="369.2" y1="497.44" x2="372.3" y2="497.44" stroke="#222" stroke-width="0.9"/>
<text x="366.6" y="500.24" font-size="7.9" text-anchor="end" stroke="#222" stroke-width="0.16">4</text>
<line x1="369.2" y1="514.42" x2="372.3" y2="514.42" stroke="#222" stroke-width="0.9"/>
<text x="366.6" y="517.22" font-size="7.9" text-anchor="end" stroke="#222" stroke-width="0.16">2</text>
<line x1="369.2" y1="531.4" x2="372.3" y2="531.4" stroke="#222" stroke-width="0.9"/>
<text x="366.6" y="534.2" font-size="7.9" text-anchor="end" stroke="#222" stroke-width="0.16">0</text>
<line x1="386.9" y1="449.4" x2="402.7" y2="449.4" stroke="#333" stroke-width="1"/>
<text x="394.8" y="449.5" font-size="7.9" text-anchor="middle" stroke="#222" stroke-width="0.16">*</text>
<text x="393.8" y="433.6" font-size="9" text-anchor="middle" stroke="#222" stroke-width="0.16">Red blood cells</text>
<text x="0" y="0" font-size="9.2" text-anchor="middle" transform="translate(351.6 489.2) rotate(-90) scale(0.79 1)" stroke="#222" stroke-width="0.22">10<tspan dy="-3" font-size="4.8">6</tspan><tspan dy="3">/µl</tspan></text>
<rect x="461" y="466.3" width="14.4" height="65.1" fill="#9d9dab"/>
<rect x="480.2" y="462.5" width="14.2" height="68.9" fill="#aed5f3"/>
<line x1="468.2" y1="465.3" x2="468.2" y2="467.3" stroke="#3a3f4d" stroke-width="0.9"/>
<line x1="464.4" y1="465.3" x2="472" y2="465.3" stroke="#3a3f4d" stroke-width="0.9"/>
<line x1="464.4" y1="467.3" x2="472" y2="467.3" stroke="#3a3f4d" stroke-width="0.9"/>
<line x1="487.3" y1="461.8" x2="487.3" y2="463.2" stroke="#2eaee0" stroke-width="0.9"/>
<line x1="483.5" y1="461.8" x2="491.1" y2="461.8" stroke="#2eaee0" stroke-width="0.9"/>
<line x1="483.5" y1="463.2" x2="491.1" y2="463.2" stroke="#2eaee0" stroke-width="0.9"/>
<circle cx="462" cy="465" r="1.2" fill="#2b3142"/>
<circle cx="465" cy="466" r="1.2" fill="#2b3142"/>
<circle cx="468" cy="466" r="1.2" fill="#2b3142"/>
<circle cx="471" cy="466" r="1.2" fill="#2b3142"/>
<circle cx="474" cy="467" r="1.2" fill="#2b3142"/>
<circle cx="462" cy="467" r="1.2" fill="#2b3142"/>
<circle cx="481" cy="463" r="1.2" fill="#2a80b4"/>
<circle cx="485" cy="462" r="1.2" fill="#2a80b4"/>
<circle cx="490" cy="462" r="1.2" fill="#2a80b4"/>
<circle cx="493" cy="463" r="1.2" fill="#2a80b4"/>
<line x1="456.2" y1="444.3" x2="456.2" y2="531.95" stroke="#222" stroke-width="1.1"/>
<line x1="455.65" y1="531.4" x2="498.8" y2="531.4" stroke="#222" stroke-width="1.1"/>
<line x1="453.1" y1="446.9" x2="456.2" y2="446.9" stroke="#222" stroke-width="0.9"/>
<text x="450.5" y="449.7" font-size="7.9" text-anchor="end" stroke="#222" stroke-width="0.16">50</text>
<line x1="453.1" y1="463.8" x2="456.2" y2="463.8" stroke="#222" stroke-width="0.9"/>
<text x="450.5" y="466.6" font-size="7.9" text-anchor="end" stroke="#222" stroke-width="0.16">40</text>
<line x1="453.1" y1="480.7" x2="456.2" y2="480.7" stroke="#222" stroke-width="0.9"/>
<text x="450.5" y="483.5" font-size="7.9" text-anchor="end" stroke="#222" stroke-width="0.16">30</text>
<line x1="453.1" y1="497.6" x2="456.2" y2="497.6" stroke="#222" stroke-width="0.9"/>
<text x="450.5" y="500.4" font-size="7.9" text-anchor="end" stroke="#222" stroke-width="0.16">20</text>
<line x1="453.1" y1="514.5" x2="456.2" y2="514.5" stroke="#222" stroke-width="0.9"/>
<text x="450.5" y="517.3" font-size="7.9" text-anchor="end" stroke="#222" stroke-width="0.16">10</text>
<line x1="453.1" y1="531.4" x2="456.2" y2="531.4" stroke="#222" stroke-width="0.9"/>
<text x="450.5" y="534.2" font-size="7.9" text-anchor="end" stroke="#222" stroke-width="0.16">0</text>
<line x1="468" y1="449.4" x2="483.5" y2="449.4" stroke="#333" stroke-width="1"/>
<text x="475.75" y="449.5" font-size="7.9" text-anchor="middle" stroke="#222" stroke-width="0.16">***</text>
<text x="477.1" y="427.7" font-size="9" text-anchor="middle" stroke="#222" stroke-width="0.16">Mean corpuscular</text>
<text x="477.7" y="438.2" font-size="9" text-anchor="middle" stroke="#222" stroke-width="0.16">volume</text>
<text x="0" y="0" font-size="9.2" text-anchor="middle" transform="translate(436.5 488.5) rotate(-90) scale(0.85 1)" stroke="#222" stroke-width="0.22">fL</text>
<text x="6.7" y="557.1" font-size="11.4" font-weight="bold" fill="#000" stroke="#000" stroke-width="0.16">Q</text>
<text x="124.2" y="571.5" font-size="7.8" text-anchor="middle" stroke="#222" stroke-width="0.16">Spleen</text>
<line x1="39.4" y1="575.6" x2="39.4" y2="663.15" stroke="#222" stroke-width="1.1"/>
<line x1="38.85" y1="662.6" x2="208.5" y2="662.6" stroke="#222" stroke-width="1.1"/>
<line x1="36.3" y1="578.3" x2="39.4" y2="578.3" stroke="#222" stroke-width="0.9"/>
<text x="33.7" y="581.1" font-size="7.9" text-anchor="end" stroke="#222" stroke-width="0.16">3</text>
<line x1="36.3" y1="606.4" x2="39.4" y2="606.4" stroke="#222" stroke-width="0.9"/>
<text x="33.7" y="609.2" font-size="7.9" text-anchor="end" stroke="#222" stroke-width="0.16">2</text>
<line x1="36.3" y1="634.5" x2="39.4" y2="634.5" stroke="#222" stroke-width="0.9"/>
<text x="33.7" y="637.3" font-size="7.9" text-anchor="end" stroke="#222" stroke-width="0.16">1</text>
<line x1="36.3" y1="662.6" x2="39.4" y2="662.6" stroke="#222" stroke-width="0.9"/>
<text x="33.7" y="665.4" font-size="7.9" text-anchor="end" stroke="#222" stroke-width="0.16">0</text>
<line x1="65.4" y1="662.6" x2="65.4" y2="665.4" stroke="#222" stroke-width="0.9"/>
<text x="65.4" y="676" font-size="7.8" text-anchor="middle" stroke="#222" stroke-width="0.16">B cells</text>
<line x1="124.2" y1="662.6" x2="124.2" y2="665.4" stroke="#222" stroke-width="0.9"/>
<text x="124.2" y="676" font-size="7.8" text-anchor="middle" stroke="#222" stroke-width="0.16">T cells</text>
<line x1="182.3" y1="662.6" x2="182.3" y2="665.4" stroke="#222" stroke-width="0.9"/>
<text x="182.3" y="676" font-size="7.8" text-anchor="middle" stroke="#222" stroke-width="0.16">Myeloid</text>
<rect x="47.7" y="618.1" width="13.5" height="44.5" fill="#9d9dab"/>
<rect x="69.6" y="623.8" width="13.5" height="38.8" fill="#aed5f3"/>
<line x1="54.4" y1="609" x2="54.4" y2="626.3" stroke="#3a3f4d" stroke-width="0.9"/>
<line x1="50.8" y1="609" x2="58" y2="609" stroke="#3a3f4d" stroke-width="0.9"/>
<line x1="50.8" y1="626.3" x2="58" y2="626.3" stroke="#3a3f4d" stroke-width="0.9"/>
<line x1="76.4" y1="611.9" x2="76.4" y2="634" stroke="#2eaee0" stroke-width="0.9"/>
<line x1="72.8" y1="611.9" x2="80" y2="611.9" stroke="#2eaee0" stroke-width="0.9"/>
<line x1="72.8" y1="634" x2="80" y2="634" stroke="#2eaee0" stroke-width="0.9"/>
<circle cx="54.4" cy="598.5" r="1.2" fill="#2b3142"/>
<circle cx="54.4" cy="603.3" r="1.2" fill="#2b3142"/>
<circle cx="54.4" cy="614.5" r="1.2" fill="#2b3142"/>
<circle cx="54.4" cy="637.3" r="1.2" fill="#2b3142"/>
<circle cx="54.4" cy="640.5" r="1.2" fill="#2b3142"/>
<circle cx="76.4" cy="586.9" r="1.2" fill="#2a80b4"/>
<circle cx="74" cy="631" r="1.2" fill="#2a80b4"/>
<circle cx="79" cy="631" r="1.2" fill="#2a80b4"/>
<circle cx="76.4" cy="653" r="1.2" fill="#2a80b4"/>
<rect x="106.2" y="644.9" width="13.8" height="17.7" fill="#9d9dab"/>
<rect x="128.1" y="648.2" width="13.8" height="14.4" fill="#aed5f3"/>
<line x1="113.1" y1="640.8" x2="113.1" y2="648.8" stroke="#3a3f4d" stroke-width="0.9"/>
<line x1="109.5" y1="640.8" x2="116.7" y2="640.8" stroke="#3a3f4d" stroke-width="0.9"/>
<line x1="109.5" y1="648.8" x2="116.7" y2="648.8" stroke="#3a3f4d" stroke-width="0.9"/>
<line x1="135" y1="641.9" x2="135" y2="654.6" stroke="#2eaee0" stroke-width="0.9"/>
<line x1="131.4" y1="641.9" x2="138.6" y2="641.9" stroke="#2eaee0" stroke-width="0.9"/>
<line x1="131.4" y1="654.6" x2="138.6" y2="654.6" stroke="#2eaee0" stroke-width="0.9"/>
<circle cx="110" cy="636.2" r="1.2" fill="#2b3142"/>
<circle cx="116" cy="636.2" r="1.2" fill="#2b3142"/>
<circle cx="113.1" cy="643" r="1.2" fill="#2b3142"/>
<circle cx="110" cy="647.5" r="1.2" fill="#2b3142"/>
<circle cx="116" cy="647.5" r="1.2" fill="#2b3142"/>
<circle cx="110" cy="653" r="1.2" fill="#2b3142"/>
<circle cx="116" cy="653" r="1.2" fill="#2b3142"/>
<circle cx="135" cy="628" r="1.2" fill="#2a80b4"/>
<circle cx="132.8" cy="647" r="1.2" fill="#2a80b4"/>
<circle cx="137.2" cy="647" r="1.2" fill="#2a80b4"/>
<circle cx="135" cy="652.5" r="1.2" fill="#2a80b4"/>
<circle cx="135" cy="658" r="1.2" fill="#2a80b4"/>
<rect x="165" y="656.5" width="13.9" height="6.1" fill="#9d9dab"/>
<rect x="186.9" y="657" width="13.9" height="5.6" fill="#aed5f3"/>
<line x1="172" y1="655" x2="172" y2="658" stroke="#3a3f4d" stroke-width="0.9"/>
<line x1="168.4" y1="655" x2="175.6" y2="655" stroke="#3a3f4d" stroke-width="0.9"/>
<line x1="168.4" y1="658" x2="175.6" y2="658" stroke="#3a3f4d" stroke-width="0.9"/>
<line x1="193.8" y1="655.2" x2="193.8" y2="659" stroke="#2eaee0" stroke-width="0.9"/>
<line x1="190.2" y1="655.2" x2="197.4" y2="655.2" stroke="#2eaee0" stroke-width="0.9"/>
<line x1="190.2" y1="659" x2="197.4" y2="659" stroke="#2eaee0" stroke-width="0.9"/>
<circle cx="166" cy="655" r="1.2" fill="#2b3142"/>
<circle cx="169" cy="654.5" r="1.2" fill="#2b3142"/>
<circle cx="172" cy="655" r="1.2" fill="#2b3142"/>
<circle cx="175" cy="654.5" r="1.2" fill="#2b3142"/>
<circle cx="178" cy="655.2" r="1.2" fill="#2b3142"/>
<circle cx="193.8" cy="652.5" r="1.2" fill="#2a80b4"/>
<circle cx="188" cy="656" r="1.2" fill="#2a80b4"/>
<circle cx="192" cy="656.5" r="1.2" fill="#2a80b4"/>
<circle cx="196" cy="656" r="1.2" fill="#2a80b4"/>
<circle cx="200" cy="656.5" r="1.2" fill="#2a80b4"/>
<circle cx="193.8" cy="659" r="1.2" fill="#2a80b4"/>
<line x1="58" y1="583.4" x2="73.5" y2="583.4" stroke="#777" stroke-width="1.4"/>
<text x="65.75" y="580.2" font-size="7.9" text-anchor="middle" stroke="#222" stroke-width="0.16">ns</text>
<line x1="118.8" y1="583.4" x2="134.3" y2="583.4" stroke="#777" stroke-width="1.4"/>
<text x="126.55" y="580.2" font-size="7.9" text-anchor="middle" stroke="#222" stroke-width="0.16">ns</text>
<line x1="176.5" y1="583.4" x2="191.5" y2="583.4" stroke="#777" stroke-width="1.4"/>
<text x="184" y="580.2" font-size="7.9" text-anchor="middle" stroke="#222" stroke-width="0.16">ns</text>
<text x="0" y="0" font-size="8.4" text-anchor="middle" transform="translate(22.2 621.5) rotate(-90) scale(0.93 1)" stroke="#222" stroke-width="0.22"># of cells (×10<tspan dy="-2.8" font-size="5.2">7</tspan><tspan dy="2.8">)</tspan></text>
<text x="217.9" y="557.4" font-size="11.4" font-weight="bold" fill="#000" stroke="#000" stroke-width="0.16">R</text>
<circle cx="266.3" cy="559.9" r="2.7" fill="#4a4f5e"/>
<text x="272.8" y="562.7" font-size="7.8" font-style="italic" stroke="#222" stroke-width="0.16">Bclaf1<tspan dy="-2.9" font-size="5.2">f/f</tspan></text>
<circle cx="309.2" cy="559.9" r="2.7" fill="#4d2150"/>
<text x="315.4" y="562.7" font-size="7.8" font-style="italic" stroke="#222" stroke-width="0.16">Mx-Cre:Bclaf1<tspan dy="-2.9" font-size="5.2">f/f</tspan></text>
<text x="376.8" y="563.2" font-size="9.2" stroke="#222" stroke-width="0.16">4 weeks post pIpC</text>
<rect x="258" y="627.3" width="14.3" height="35.3" fill="#a3a6b8"/>
<rect x="281.8" y="631.2" width="15.1" height="31.4" fill="#ae86c0"/>
<line x1="265.15" y1="610.4" x2="265.15" y2="642.7" stroke="#4a4f63" stroke-width="0.9"/>
<line x1="261.45" y1="610.4" x2="268.85" y2="610.4" stroke="#4a4f63" stroke-width="0.9"/>
<line x1="261.45" y1="642.7" x2="268.85" y2="642.7" stroke="#4a4f63" stroke-width="0.9"/>
<line x1="289.35" y1="609.3" x2="289.35" y2="651.2" stroke="#4a1d50" stroke-width="0.9"/>
<line x1="285.65" y1="609.3" x2="293.05" y2="609.3" stroke="#4a1d50" stroke-width="0.9"/>
<line x1="285.65" y1="651.2" x2="293.05" y2="651.2" stroke="#4a1d50" stroke-width="0.9"/>
<circle cx="265" cy="591" r="1.2" fill="#3a3f55"/>
<circle cx="265" cy="618" r="1.2" fill="#3a3f55"/>
<circle cx="263" cy="625" r="1.2" fill="#3a3f55"/>
<circle cx="267" cy="625" r="1.2" fill="#3a3f55"/>
<circle cx="265" cy="630.5" r="1.2" fill="#3a3f55"/>
<circle cx="262" cy="635.5" r="1.2" fill="#3a3f55"/>
<circle cx="267.5" cy="635.5" r="1.2" fill="#3a3f55"/>
<circle cx="265" cy="639" r="1.2" fill="#3a3f55"/>
<circle cx="265" cy="647" r="1.2" fill="#3a3f55"/>
<circle cx="289.3" cy="584" r="1.2" fill="#4a1d50"/>
<circle cx="289.3" cy="612" r="1.2" fill="#4a1d50"/>
<circle cx="289.3" cy="616" r="1.2" fill="#4a1d50"/>
<circle cx="289.3" cy="624" r="1.2" fill="#4a1d50"/>
<circle cx="289.3" cy="628.5" r="1.2" fill="#4a1d50"/>
<circle cx="289.3" cy="634" r="1.2" fill="#4a1d50"/>
<circle cx="289.3" cy="644.5" r="1.2" fill="#4a1d50"/>
<circle cx="286.5" cy="648.5" r="1.2" fill="#4a1d50"/>
<circle cx="292" cy="650" r="1.2" fill="#4a1d50"/>
<circle cx="289.3" cy="654" r="1.2" fill="#4a1d50"/>
<line x1="248.5" y1="575.7" x2="248.5" y2="663.15" stroke="#222" stroke-width="1.1"/>
<line x1="247.95" y1="662.6" x2="305.4" y2="662.6" stroke="#222" stroke-width="1.1"/>
<line x1="245.4" y1="578.3" x2="248.5" y2="578.3" stroke="#222" stroke-width="0.9"/>
<text x="242.8" y="581.1" font-size="7.9" text-anchor="end" stroke="#222" stroke-width="0.16">10</text>
<line x1="245.4" y1="595.16" x2="248.5" y2="595.16" stroke="#222" stroke-width="0.9"/>
<text x="242.8" y="597.96" font-size="7.9" text-anchor="end" stroke="#222" stroke-width="0.16">8</text>
<line x1="245.4" y1="612.02" x2="248.5" y2="612.02" stroke="#222" stroke-width="0.9"/>
<text x="242.8" y="614.82" font-size="7.9" text-anchor="end" stroke="#222" stroke-width="0.16">6</text>
<line x1="245.4" y1="628.88" x2="248.5" y2="628.88" stroke="#222" stroke-width="0.9"/>
<text x="242.8" y="631.68" font-size="7.9" text-anchor="end" stroke="#222" stroke-width="0.16">4</text>
<line x1="245.4" y1="645.74" x2="248.5" y2="645.74" stroke="#222" stroke-width="0.9"/>
<text x="242.8" y="648.54" font-size="7.9" text-anchor="end" stroke="#222" stroke-width="0.16">2</text>
<line x1="245.4" y1="662.6" x2="248.5" y2="662.6" stroke="#222" stroke-width="0.9"/>
<text x="242.8" y="665.4" font-size="7.9" text-anchor="end" stroke="#222" stroke-width="0.16">0</text>
<line x1="267.4" y1="580.8" x2="283.4" y2="580.8" stroke="#333" stroke-width="1"/>
<text x="275.4" y="577.4" font-size="7.9" text-anchor="middle" stroke="#222" stroke-width="0.16">ns</text>
<text x="0" y="0" font-size="8.4" text-anchor="middle" transform="translate(228.6 618.9) rotate(-90) scale(0.81 1)" stroke="#222" stroke-width="0.22"># of HSCs (×10<tspan dy="-2.8" font-size="5.2">3</tspan><tspan dy="2.8">)</tspan></text>
<rect x="354.6" y="623.7" width="14.8" height="39" fill="#a3a6b8"/>
<rect x="379" y="627.5" width="14.5" height="35.2" fill="#ae86c0"/>
<line x1="362" y1="610.2" x2="362" y2="634.2" stroke="#4a4f63" stroke-width="0.9"/>
<line x1="358.3" y1="610.2" x2="365.7" y2="610.2" stroke="#4a4f63" stroke-width="0.9"/>
<line x1="358.3" y1="634.2" x2="365.7" y2="634.2" stroke="#4a4f63" stroke-width="0.9"/>
<line x1="386.25" y1="610.8" x2="386.25" y2="643.5" stroke="#4a1d50" stroke-width="0.9"/>
<line x1="382.55" y1="610.8" x2="389.95" y2="610.8" stroke="#4a1d50" stroke-width="0.9"/>
<line x1="382.55" y1="643.5" x2="389.95" y2="643.5" stroke="#4a1d50" stroke-width="0.9"/>
<circle cx="362" cy="606" r="1.2" fill="#3a3f55"/>
<circle cx="358" cy="611" r="1.2" fill="#3a3f55"/>
<circle cx="366" cy="611" r="1.2" fill="#3a3f55"/>
<circle cx="362" cy="620" r="1.2" fill="#3a3f55"/>
<circle cx="358" cy="627" r="1.2" fill="#3a3f55"/>
<circle cx="366" cy="627" r="1.2" fill="#3a3f55"/>
<circle cx="362" cy="631" r="1.2" fill="#3a3f55"/>
<circle cx="362" cy="637" r="1.2" fill="#3a3f55"/>
<circle cx="358" cy="642" r="1.2" fill="#3a3f55"/>
<circle cx="366" cy="642" r="1.2" fill="#3a3f55"/>
<circle cx="386.3" cy="582.5" r="1.2" fill="#4a1d50"/>
<circle cx="386.3" cy="615" r="1.2" fill="#4a1d50"/>
<circle cx="386.3" cy="622.5" r="1.2" fill="#4a1d50"/>
<circle cx="381" cy="630" r="1.2" fill="#4a1d50"/>
<circle cx="384" cy="630" r="1.2" fill="#4a1d50"/>
<circle cx="389" cy="630" r="1.2" fill="#4a1d50"/>
<circle cx="392" cy="630" r="1.2" fill="#4a1d50"/>
<circle cx="381" cy="634" r="1.2" fill="#4a1d50"/>
<circle cx="392" cy="634" r="1.2" fill="#4a1d50"/>
<circle cx="386.3" cy="644" r="1.2" fill="#4a1d50"/>
<circle cx="386.3" cy="647.5" r="1.2" fill="#4a1d50"/>
<line x1="345.8" y1="575.9" x2="345.8" y2="663.25" stroke="#222" stroke-width="1.1"/>
<line x1="345.25" y1="662.7" x2="402.1" y2="662.7" stroke="#222" stroke-width="1.1"/>
<line x1="342.7" y1="578.5" x2="345.8" y2="578.5" stroke="#222" stroke-width="0.9"/>
<text x="340.1" y="581.3" font-size="7.9" text-anchor="end" stroke="#222" stroke-width="0.16">80</text>
<line x1="342.7" y1="599.55" x2="345.8" y2="599.55" stroke="#222" stroke-width="0.9"/>
<text x="340.1" y="602.35" font-size="7.9" text-anchor="end" stroke="#222" stroke-width="0.16">60</text>
<line x1="342.7" y1="620.6" x2="345.8" y2="620.6" stroke="#222" stroke-width="0.9"/>
<text x="340.1" y="623.4" font-size="7.9" text-anchor="end" stroke="#222" stroke-width="0.16">40</text>
<line x1="342.7" y1="641.65" x2="345.8" y2="641.65" stroke="#222" stroke-width="0.9"/>
<text x="340.1" y="644.45" font-size="7.9" text-anchor="end" stroke="#222" stroke-width="0.16">20</text>
<line x1="342.7" y1="662.7" x2="345.8" y2="662.7" stroke="#222" stroke-width="0.9"/>
<text x="340.1" y="665.5" font-size="7.9" text-anchor="end" stroke="#222" stroke-width="0.16">0</text>
<line x1="366.5" y1="579.5" x2="381.9" y2="579.5" stroke="#333" stroke-width="1"/>
<text x="374.2" y="576.1" font-size="7.9" text-anchor="middle" stroke="#222" stroke-width="0.16">ns</text>
<text x="0" y="0" font-size="8.4" text-anchor="middle" transform="translate(324 618.8) rotate(-90) scale(0.85 1)" stroke="#222" stroke-width="0.22"># of MPP3/4s ×10<tspan dy="-2.8" font-size="5.2">3</tspan><tspan dy="2.8">)</tspan></text>
<rect x="451.5" y="617.9" width="14.7" height="45.1" fill="#a3a6b8"/>
<rect x="475.8" y="616.5" width="14.2" height="46.5" fill="#ae86c0"/>
<line x1="458.85" y1="603.5" x2="458.85" y2="630" stroke="#4a4f63" stroke-width="0.9"/>
<line x1="455.15" y1="603.5" x2="462.55" y2="603.5" stroke="#4a4f63" stroke-width="0.9"/>
<line x1="455.15" y1="630" x2="462.55" y2="630" stroke="#4a4f63" stroke-width="0.9"/>
<line x1="482.9" y1="597.7" x2="482.9" y2="633.3" stroke="#4a1d50" stroke-width="0.9"/>
<line x1="479.2" y1="597.7" x2="486.6" y2="597.7" stroke="#4a1d50" stroke-width="0.9"/>
<line x1="479.2" y1="633.3" x2="486.6" y2="633.3" stroke="#4a1d50" stroke-width="0.9"/>
<circle cx="459.2" cy="595.5" r="1.2" fill="#3a3f55"/>
<circle cx="459.2" cy="600.5" r="1.2" fill="#3a3f55"/>
<circle cx="455" cy="613" r="1.2" fill="#3a3f55"/>
<circle cx="463" cy="613" r="1.2" fill="#3a3f55"/>
<circle cx="459.2" cy="622" r="1.2" fill="#3a3f55"/>
<circle cx="456" cy="631" r="1.2" fill="#3a3f55"/>
<circle cx="462" cy="632" r="1.2" fill="#3a3f55"/>
<circle cx="459.2" cy="640" r="1.2" fill="#3a3f55"/>
<circle cx="482.9" cy="589.5" r="1.2" fill="#4a1d50"/>
<circle cx="478.5" cy="602" r="1.2" fill="#4a1d50"/>
<circle cx="487" cy="602" r="1.2" fill="#4a1d50"/>
<circle cx="482.9" cy="605" r="1.2" fill="#4a1d50"/>
<circle cx="482.9" cy="617.5" r="1.2" fill="#4a1d50"/>
<circle cx="487" cy="616.5" r="1.2" fill="#4a1d50"/>
<circle cx="480" cy="624" r="1.2" fill="#4a1d50"/>
<circle cx="482.9" cy="630" r="1.2" fill="#4a1d50"/>
<circle cx="478" cy="640" r="1.2" fill="#4a1d50"/>
<circle cx="487" cy="640" r="1.2" fill="#4a1d50"/>
<line x1="442.5" y1="575.9" x2="442.5" y2="663.55" stroke="#222" stroke-width="1.1"/>
<line x1="441.95" y1="663" x2="499.2" y2="663" stroke="#222" stroke-width="1.1"/>
<line x1="439.4" y1="578.5" x2="442.5" y2="578.5" stroke="#222" stroke-width="0.9"/>
<text x="436.8" y="581.3" font-size="7.9" text-anchor="end" stroke="#222" stroke-width="0.16">10</text>
<line x1="439.4" y1="595.4" x2="442.5" y2="595.4" stroke="#222" stroke-width="0.9"/>
<text x="436.8" y="598.2" font-size="7.9" text-anchor="end" stroke="#222" stroke-width="0.16">8</text>
<line x1="439.4" y1="612.3" x2="442.5" y2="612.3" stroke="#222" stroke-width="0.9"/>
<text x="436.8" y="615.1" font-size="7.9" text-anchor="end" stroke="#222" stroke-width="0.16">6</text>
<line x1="439.4" y1="629.2" x2="442.5" y2="629.2" stroke="#222" stroke-width="0.9"/>
<text x="436.8" y="632" font-size="7.9" text-anchor="end" stroke="#222" stroke-width="0.16">4</text>
<line x1="439.4" y1="646.1" x2="442.5" y2="646.1" stroke="#222" stroke-width="0.9"/>
<text x="436.8" y="648.9" font-size="7.9" text-anchor="end" stroke="#222" stroke-width="0.16">2</text>
<line x1="439.4" y1="663" x2="442.5" y2="663" stroke="#222" stroke-width="0.9"/>
<text x="436.8" y="665.8" font-size="7.9" text-anchor="end" stroke="#222" stroke-width="0.16">0</text>
<line x1="462.7" y1="581" x2="478.1" y2="581" stroke="#333" stroke-width="1"/>
<text x="470.4" y="577.6" font-size="7.9" text-anchor="middle" stroke="#222" stroke-width="0.16">ns</text>
<text x="0" y="0" font-size="8.4" text-anchor="middle" transform="translate(422.9 621.4) rotate(-90) scale(0.82 1)" stroke="#222" stroke-width="0.22"># of total cells (×10<tspan dy="-2.8" font-size="5.2">7</tspan><tspan dy="2.8">)</tspan></text>
<rect x="0.5" y="0.5" width="519" height="683" fill="none" stroke="#555" stroke-width="1.1"/>
</svg>
</body></html>
